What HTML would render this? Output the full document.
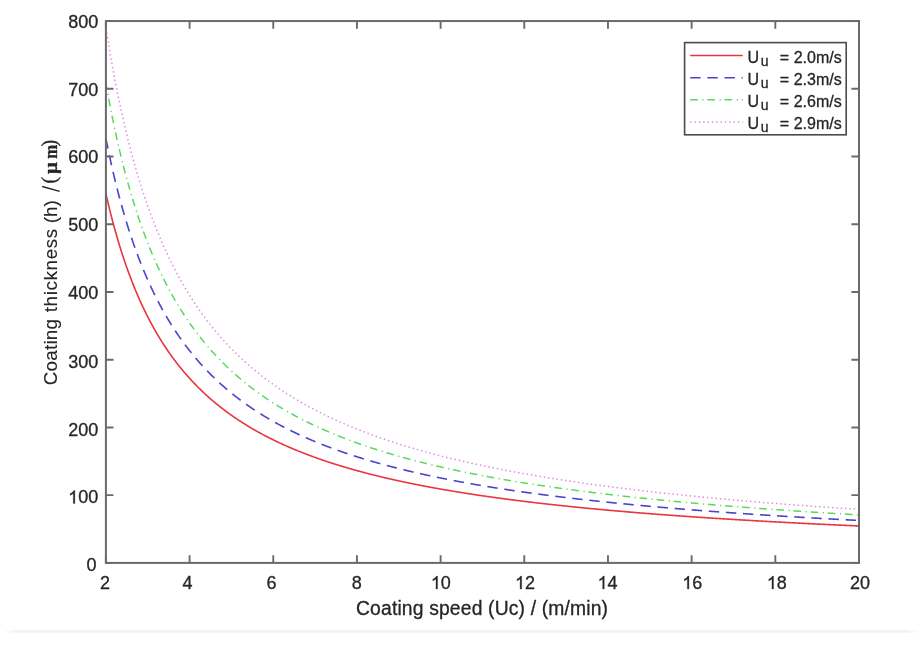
<!DOCTYPE html>
<html><head><meta charset="utf-8"><style>
html,body{margin:0;padding:0;background:#fff;}
body{width:921px;height:647px;overflow:hidden;}
svg{display:block;}
text{filter:grayscale(1);}
text.yl{stroke-width:0.12px;}
text{font-family:"Liberation Sans",sans-serif;fill:#262626;stroke:#262626;stroke-width:0.3px;}
</style></head><body>
<svg width="921" height="647" viewBox="0 0 921 647">
<rect width="921" height="647" fill="#fff"/>
<line x1="6" y1="631.4" x2="918" y2="631.4" stroke="#f8f8f8" stroke-width="2"/>
<line x1="14" y1="631.4" x2="910" y2="631.4" stroke="#f0f0f0" stroke-width="2"/>

<clipPath id="c"><rect x="105.9" y="21.05" width="753.1" height="541.85"/></clipPath><g clip-path="url(#c)" fill="none">
<path d="M105.90,193.76 L106.40,195.97 L106.90,198.14 L107.41,200.29 L107.91,202.42 L108.41,204.52 L108.91,206.59 L109.41,208.64 L109.92,210.67 L110.42,212.68 L110.92,214.66 L111.42,216.62 L111.92,218.56 L112.43,220.47 L112.93,222.37 L113.43,224.24 L113.93,226.10 L114.44,227.93 L114.94,229.75 L115.44,231.54 L115.94,233.31 L116.44,235.07 L116.95,236.81 L117.45,238.53 L117.95,240.23 L118.45,241.91 L118.95,243.58 L119.46,245.23 L119.96,246.86 L120.46,248.47 L120.96,250.07 L121.46,251.66 L121.97,253.22 L122.47,254.77 L122.97,256.31 L123.47,257.83 L123.97,259.33 L124.48,260.83 L124.98,262.30 L125.48,263.76 L125.98,265.21 L126.48,266.64 L126.99,268.06 L127.49,269.47 L127.99,270.86 L128.49,272.24 L129.00,273.61 L129.50,274.96 L130.00,276.30 L130.50,277.63 L131.00,278.95 L131.51,280.25 L132.01,281.55 L132.51,282.83 L133.01,284.10 L133.51,285.35 L134.02,286.60 L134.52,287.84 L135.02,289.06 L135.52,290.27 L136.02,291.48 L136.53,292.67 L137.03,293.85 L137.53,295.02 L138.03,296.18 L138.53,297.34 L139.04,298.48 L139.54,299.61 L140.04,300.73 L140.54,301.84 L141.04,302.95 L141.55,304.04 L142.05,305.12 L142.55,306.20 L143.05,307.27 L143.56,308.32 L144.06,309.37 L144.56,310.41 L145.06,311.45 L145.56,312.47 L146.07,313.48 L146.57,314.49 L147.07,315.49 L147.57,316.48 L148.07,317.46 L148.58,318.44 L149.08,319.41 L149.58,320.37 L150.08,321.32 L150.58,322.26 L151.09,323.20 L151.59,324.13 L152.09,325.06 L152.59,325.97 L153.09,326.88 L153.60,327.78 L154.10,328.68 L154.60,329.57 L155.10,330.45 L155.60,331.32 L156.11,332.19 L156.61,333.05 L157.11,333.91 L157.61,334.76 L158.11,335.60 L158.62,336.44 L159.12,337.27 L159.62,338.09 L160.12,338.91 L160.63,339.72 L161.13,340.53 L161.63,341.33 L162.13,342.13 L162.63,342.91 L163.14,343.70 L163.64,344.48 L164.14,345.25 L164.64,346.02 L165.14,346.78 L165.65,347.54 L166.15,348.29 L166.65,349.03 L167.15,349.77 L167.65,350.51 L168.16,351.24 L168.66,351.97 L169.16,352.69 L169.66,353.40 L170.16,354.11 L170.67,354.82 L171.17,355.52 L171.67,356.22 L172.17,356.91 L172.67,357.60 L173.18,358.28 L173.68,358.96 L174.18,359.63 L174.68,360.30 L175.19,360.97 L175.69,361.63 L176.19,362.28 L176.69,362.94 L177.19,363.58 L177.70,364.23 L178.20,364.87 L178.70,365.50 L179.20,366.13 L179.70,366.76 L180.21,367.38 L180.71,368.00 L181.21,368.62 L181.71,369.23 L182.21,369.84 L182.72,370.44 L183.22,371.04 L183.72,371.64 L184.22,372.23 L184.72,372.82 L185.23,373.41 L185.73,373.99 L186.23,374.57 L186.73,375.14 L187.23,375.71 L187.74,376.28 L188.24,376.84 L188.74,377.40 L189.24,377.96 L189.75,378.52 L190.25,379.07 L190.75,379.62 L191.25,380.16 L191.75,380.70 L192.26,381.24 L192.76,381.77 L193.26,382.31 L193.76,382.83 L194.26,383.36 L194.77,383.88 L195.27,384.40 L195.77,384.92 L196.27,385.43 L196.77,385.94 L197.28,386.45 L197.78,386.95 L198.28,387.46 L198.78,387.95 L199.28,388.45 L199.79,388.94 L200.29,389.43 L200.79,389.92 L201.29,390.41 L201.79,390.89 L202.30,391.37 L202.80,391.85 L203.30,392.32 L203.80,392.79 L204.31,393.26 L204.81,393.73 L205.31,394.19 L205.81,394.65 L206.31,395.11 L206.82,395.57 L207.32,396.02 L207.82,396.47 L208.32,396.92 L208.82,397.37 L209.33,397.81 L209.83,398.25 L210.33,398.69 L210.83,399.13 L211.33,399.57 L211.84,400.00 L212.34,400.43 L212.84,400.86 L213.34,401.28 L213.84,401.71 L214.35,402.13 L214.85,402.55 L215.35,402.96 L215.85,403.38 L216.35,403.79 L216.86,404.20 L217.36,404.61 L217.86,405.01 L218.36,405.42 L218.87,405.82 L219.37,406.22 L219.87,406.62 L220.37,407.02 L220.87,407.41 L221.38,407.80 L221.88,408.19 L222.38,408.58 L222.88,408.97 L223.38,409.35 L223.89,409.73 L224.39,410.11 L224.89,410.49 L225.39,410.87 L225.89,411.24 L226.40,411.62 L226.90,411.99 L227.40,412.36 L227.90,412.72 L228.40,413.09 L228.91,413.45 L229.41,413.81 L229.91,414.18 L230.41,414.53 L230.91,414.89 L231.42,415.25 L231.92,415.60 L232.42,415.95 L232.92,416.30 L233.42,416.65 L233.93,417.00 L234.43,417.34 L234.93,417.69 L235.43,418.03 L235.94,418.37 L236.44,418.71 L236.94,419.04 L237.44,419.38 L237.94,419.71 L238.45,420.05 L238.95,420.38 L239.45,420.71 L239.95,421.03 L240.45,421.36 L240.96,421.69 L241.46,422.01 L241.96,422.33 L242.46,422.65 L242.96,422.97 L243.47,423.29 L243.97,423.60 L244.47,423.92 L244.97,424.23 L245.47,424.54 L245.98,424.85 L246.48,425.16 L246.98,425.47 L247.48,425.78 L247.98,426.08 L248.49,426.39 L248.99,426.69 L249.49,426.99 L249.99,427.29 L250.50,427.59 L251.00,427.88 L251.50,428.18 L252.00,428.47 L252.50,428.77 L253.01,429.06 L253.51,429.35 L254.01,429.64 L254.51,429.93 L255.01,430.21 L255.52,430.50 L256.02,430.78 L256.52,431.07 L257.02,431.35 L257.52,431.63 L258.03,431.91 L258.53,432.19 L259.03,432.46 L259.53,432.74 L260.03,433.01 L260.54,433.29 L261.04,433.56 L261.54,433.83 L262.04,434.10 L262.54,434.37 L263.05,434.64 L263.55,434.91 L264.05,435.17 L264.55,435.44 L265.06,435.70 L265.56,435.96 L266.06,436.22 L266.56,436.48 L267.06,436.74 L267.57,437.00 L268.07,437.26 L268.57,437.51 L269.07,437.77 L269.57,438.02 L270.08,438.28 L270.58,438.53 L271.08,438.78 L271.58,439.03 L272.08,439.28 L272.59,439.53 L273.09,439.77 L273.59,440.02 L274.09,440.26 L274.59,440.51 L275.10,440.75 L275.60,440.99 L276.10,441.23 L276.60,441.47 L277.10,441.71 L277.61,441.95 L278.11,442.19 L278.61,442.43 L279.11,442.66 L279.62,442.90 L280.12,443.13 L280.62,443.36 L281.12,443.59 L281.62,443.82 L282.13,444.05 L282.63,444.28 L283.13,444.51 L283.63,444.74 L284.13,444.97 L284.64,445.19 L285.14,445.42 L285.64,445.64 L286.14,445.86 L286.64,446.09 L287.15,446.31 L287.65,446.53 L288.15,446.75 L288.65,446.97 L289.15,447.18 L289.66,447.40 L290.16,447.62 L290.66,447.83 L291.16,448.05 L291.66,448.26 L292.17,448.47 L292.67,448.69 L293.17,448.90 L293.67,449.11 L294.18,449.32 L294.68,449.53 L295.18,449.74 L295.68,449.95 L296.18,450.15 L296.69,450.36 L297.19,450.56 L297.69,450.77 L298.19,450.97 L298.69,451.18 L299.20,451.38 L299.70,451.58 L300.20,451.78 L300.70,451.98 L301.20,452.18 L301.71,452.38 L302.21,452.58 L302.71,452.78 L303.21,452.97 L303.71,453.17 L304.22,453.36 L304.72,453.56 L305.22,453.75 L305.72,453.95 L306.22,454.14 L306.73,454.33 L307.23,454.52 L307.73,454.71 L308.23,454.90 L308.73,455.09 L309.24,455.28 L309.74,455.47 L310.24,455.66 L310.74,455.84 L311.25,456.03 L311.75,456.21 L312.25,456.40 L312.75,456.58 L313.25,456.77 L313.76,456.95 L314.26,457.13 L314.76,457.31 L315.26,457.49 L315.76,457.67 L316.27,457.85 L316.77,458.03 L317.27,458.21 L317.77,458.39 L318.27,458.57 L318.78,458.74 L319.28,458.92 L319.78,459.09 L320.28,459.27 L320.78,459.44 L321.29,459.62 L321.79,459.79 L322.29,459.96 L322.79,460.13 L323.29,460.31 L323.80,460.48 L324.30,460.65 L324.80,460.82 L325.30,460.99 L325.81,461.15 L326.31,461.32 L326.81,461.49 L327.31,461.66 L327.81,461.82 L328.32,461.99 L328.82,462.15 L329.32,462.32 L329.82,462.48 L330.32,462.65 L330.83,462.81 L331.33,462.97 L331.83,463.13 L332.33,463.30 L332.83,463.46 L333.34,463.62 L333.84,463.78 L334.34,463.94 L334.84,464.10 L335.34,464.25 L335.85,464.41 L336.35,464.57 L336.85,464.73 L337.35,464.88 L337.85,465.04 L338.36,465.19 L338.86,465.35 L339.36,465.50 L339.86,465.66 L340.37,465.81 L340.87,465.96 L341.37,466.12 L341.87,466.27 L342.37,466.42 L342.88,466.57 L343.38,466.72 L343.88,466.87 L344.38,467.02 L344.88,467.17 L345.39,467.32 L345.89,467.47 L346.39,467.61 L346.89,467.76 L347.39,467.91 L347.90,468.06 L348.40,468.20 L348.90,468.35 L349.40,468.49 L349.90,468.64 L350.41,468.78 L350.91,468.92 L351.41,469.07 L351.91,469.21 L352.41,469.35 L352.92,469.50 L353.42,469.64 L353.92,469.78 L354.42,469.92 L354.93,470.06 L355.43,470.20 L355.93,470.34 L356.43,470.48 L356.93,470.62 L357.44,470.75 L357.94,470.89 L358.44,471.03 L358.94,471.17 L359.44,471.30 L359.95,471.44 L360.45,471.58 L360.95,471.71 L361.45,471.85 L361.95,471.98 L362.46,472.11 L362.96,472.25 L363.46,472.38 L363.96,472.51 L364.46,472.65 L364.97,472.78 L365.47,472.91 L365.97,473.04 L366.47,473.17 L366.97,473.30 L367.48,473.43 L367.98,473.56 L368.48,473.69 L368.98,473.82 L369.49,473.95 L369.99,474.08 L370.49,474.21 L370.99,474.34 L371.49,474.46 L372.00,474.59 L372.50,474.72 L373.00,474.84 L373.50,474.97 L374.00,475.09 L374.51,475.22 L375.01,475.34 L375.51,475.47 L376.01,475.59 L376.51,475.72 L377.02,475.84 L377.52,475.96 L378.02,476.09 L378.52,476.21 L379.02,476.33 L379.53,476.45 L380.03,476.57 L380.53,476.69 L381.03,476.81 L381.53,476.93 L382.04,477.05 L382.54,477.17 L383.04,477.29 L383.54,477.41 L384.04,477.53 L384.55,477.65 L385.05,477.77 L385.55,477.88 L386.05,478.00 L386.56,478.12 L387.06,478.24 L387.56,478.35 L388.06,478.47 L388.56,478.58 L389.07,478.70 L389.57,478.81 L390.07,478.93 L390.57,479.04 L391.07,479.16 L391.58,479.27 L392.08,479.39 L392.58,479.50 L393.08,479.61 L393.58,479.72 L394.09,479.84 L394.59,479.95 L395.09,480.06 L395.59,480.17 L396.09,480.28 L396.60,480.39 L397.10,480.50 L397.60,480.61 L398.10,480.72 L398.60,480.83 L399.11,480.94 L399.61,481.05 L400.11,481.16 L400.61,481.27 L401.12,481.38 L401.62,481.49 L402.12,481.59 L402.62,481.70 L403.12,481.81 L403.63,481.91 L404.13,482.02 L404.63,482.13 L405.13,482.23 L405.63,482.34 L406.14,482.44 L406.64,482.55 L407.14,482.65 L407.64,482.76 L408.14,482.86 L408.65,482.97 L409.15,483.07 L409.65,483.17 L410.15,483.28 L410.65,483.38 L411.16,483.48 L411.66,483.58 L412.16,483.69 L412.66,483.79 L413.16,483.89 L413.67,483.99 L414.17,484.09 L414.67,484.19 L415.17,484.29 L415.68,484.39 L416.18,484.49 L416.68,484.59 L417.18,484.69 L417.68,484.79 L418.19,484.89 L418.69,484.99 L419.19,485.09 L419.69,485.19 L420.19,485.29 L420.70,485.38 L421.20,485.48 L421.70,485.58 L422.20,485.68 L422.70,485.77 L423.21,485.87 L423.71,485.96 L424.21,486.06 L424.71,486.16 L425.21,486.25 L425.72,486.35 L426.22,486.44 L426.72,486.54 L427.22,486.63 L427.72,486.73 L428.23,486.82 L428.73,486.91 L429.23,487.01 L429.73,487.10 L430.24,487.20 L430.74,487.29 L431.24,487.38 L431.74,487.47 L432.24,487.57 L432.75,487.66 L433.25,487.75 L433.75,487.84 L434.25,487.93 L434.75,488.02 L435.26,488.12 L435.76,488.21 L436.26,488.30 L436.76,488.39 L437.26,488.48 L437.77,488.57 L438.27,488.66 L438.77,488.75 L439.27,488.84 L439.77,488.92 L440.28,489.01 L440.78,489.10 L441.28,489.19 L441.78,489.28 L442.28,489.37 L442.79,489.45 L443.29,489.54 L443.79,489.63 L444.29,489.72 L444.79,489.80 L445.30,489.89 L445.80,489.98 L446.30,490.06 L446.80,490.15 L447.31,490.24 L447.81,490.32 L448.31,490.41 L448.81,490.49 L449.31,490.58 L449.82,490.66 L450.32,490.75 L450.82,490.83 L451.32,490.92 L451.82,491.00 L452.33,491.08 L452.83,491.17 L453.33,491.25 L453.83,491.33 L454.33,491.42 L454.84,491.50 L455.34,491.58 L455.84,491.67 L456.34,491.75 L456.84,491.83 L457.35,491.91 L457.85,491.99 L458.35,492.08 L458.85,492.16 L459.35,492.24 L459.86,492.32 L460.36,492.40 L460.86,492.48 L461.36,492.56 L461.87,492.64 L462.37,492.72 L462.87,492.80 L463.37,492.88 L463.87,492.96 L464.38,493.04 L464.88,493.12 L465.38,493.20 L465.88,493.28 L466.38,493.36 L466.89,493.44 L467.39,493.51 L467.89,493.59 L468.39,493.67 L468.89,493.75 L469.40,493.83 L469.90,493.90 L470.40,493.98 L470.90,494.06 L471.40,494.13 L471.91,494.21 L472.41,494.29 L472.91,494.36 L473.41,494.44 L473.91,494.52 L474.42,494.59 L474.92,494.67 L475.42,494.74 L475.92,494.82 L476.43,494.89 L476.93,494.97 L477.43,495.04 L477.93,495.12 L478.43,495.19 L478.94,495.27 L479.44,495.34 L479.94,495.42 L480.44,495.49 L480.94,495.56 L481.45,495.64 L481.95,495.71 L482.45,495.78 L482.95,495.86 L483.45,495.93 L483.96,496.00 L484.46,496.08 L484.96,496.15 L485.46,496.22 L485.96,496.29 L486.47,496.37 L486.97,496.44 L487.47,496.51 L487.97,496.58 L488.47,496.65 L488.98,496.72 L489.48,496.79 L489.98,496.87 L490.48,496.94 L490.99,497.01 L491.49,497.08 L491.99,497.15 L492.49,497.22 L492.99,497.29 L493.50,497.36 L494.00,497.43 L494.50,497.50 L495.00,497.57 L495.50,497.64 L496.01,497.70 L496.51,497.77 L497.01,497.84 L497.51,497.91 L498.01,497.98 L498.52,498.05 L499.02,498.12 L499.52,498.18 L500.02,498.25 L500.52,498.32 L501.03,498.39 L501.53,498.46 L502.03,498.52 L502.53,498.59 L503.03,498.66 L503.54,498.72 L504.04,498.79 L504.54,498.86 L505.04,498.93 L505.55,498.99 L506.05,499.06 L506.55,499.12 L507.05,499.19 L507.55,499.26 L508.06,499.32 L508.56,499.39 L509.06,499.45 L509.56,499.52 L510.06,499.58 L510.57,499.65 L511.07,499.71 L511.57,499.78 L512.07,499.84 L512.57,499.91 L513.08,499.97 L513.58,500.04 L514.08,500.10 L514.58,500.16 L515.08,500.23 L515.59,500.29 L516.09,500.36 L516.59,500.42 L517.09,500.48 L517.59,500.55 L518.10,500.61 L518.60,500.67 L519.10,500.74 L519.60,500.80 L520.11,500.86 L520.61,500.92 L521.11,500.99 L521.61,501.05 L522.11,501.11 L522.62,501.17 L523.12,501.23 L523.62,501.30 L524.12,501.36 L524.62,501.42 L525.13,501.48 L525.63,501.54 L526.13,501.60 L526.63,501.66 L527.13,501.72 L527.64,501.78 L528.14,501.85 L528.64,501.91 L529.14,501.97 L529.64,502.03 L530.15,502.09 L530.65,502.15 L531.15,502.21 L531.65,502.27 L532.15,502.33 L532.66,502.39 L533.16,502.45 L533.66,502.50 L534.16,502.56 L534.66,502.62 L535.17,502.68 L535.67,502.74 L536.17,502.80 L536.67,502.86 L537.18,502.92 L537.68,502.98 L538.18,503.03 L538.68,503.09 L539.18,503.15 L539.69,503.21 L540.19,503.27 L540.69,503.32 L541.19,503.38 L541.69,503.44 L542.20,503.50 L542.70,503.55 L543.20,503.61 L543.70,503.67 L544.20,503.72 L544.71,503.78 L545.21,503.84 L545.71,503.89 L546.21,503.95 L546.71,504.01 L547.22,504.06 L547.72,504.12 L548.22,504.18 L548.72,504.23 L549.22,504.29 L549.73,504.34 L550.23,504.40 L550.73,504.46 L551.23,504.51 L551.74,504.57 L552.24,504.62 L552.74,504.68 L553.24,504.73 L553.74,504.79 L554.25,504.84 L554.75,504.90 L555.25,504.95 L555.75,505.01 L556.25,505.06 L556.76,505.11 L557.26,505.17 L557.76,505.22 L558.26,505.28 L558.76,505.33 L559.27,505.38 L559.77,505.44 L560.27,505.49 L560.77,505.55 L561.27,505.60 L561.78,505.65 L562.28,505.71 L562.78,505.76 L563.28,505.81 L563.78,505.86 L564.29,505.92 L564.79,505.97 L565.29,506.02 L565.79,506.07 L566.30,506.13 L566.80,506.18 L567.30,506.23 L567.80,506.28 L568.30,506.34 L568.81,506.39 L569.31,506.44 L569.81,506.49 L570.31,506.54 L570.81,506.60 L571.32,506.65 L571.82,506.70 L572.32,506.75 L572.82,506.80 L573.32,506.85 L573.83,506.90 L574.33,506.95 L574.83,507.00 L575.33,507.06 L575.83,507.11 L576.34,507.16 L576.84,507.21 L577.34,507.26 L577.84,507.31 L578.34,507.36 L578.85,507.41 L579.35,507.46 L579.85,507.51 L580.35,507.56 L580.86,507.61 L581.36,507.66 L581.86,507.71 L582.36,507.76 L582.86,507.81 L583.37,507.85 L583.87,507.90 L584.37,507.95 L584.87,508.00 L585.37,508.05 L585.88,508.10 L586.38,508.15 L586.88,508.20 L587.38,508.25 L587.88,508.29 L588.39,508.34 L588.89,508.39 L589.39,508.44 L589.89,508.49 L590.39,508.54 L590.90,508.58 L591.40,508.63 L591.90,508.68 L592.40,508.73 L592.90,508.77 L593.41,508.82 L593.91,508.87 L594.41,508.92 L594.91,508.96 L595.42,509.01 L595.92,509.06 L596.42,509.11 L596.92,509.15 L597.42,509.20 L597.93,509.25 L598.43,509.29 L598.93,509.34 L599.43,509.39 L599.93,509.43 L600.44,509.48 L600.94,509.53 L601.44,509.57 L601.94,509.62 L602.44,509.66 L602.95,509.71 L603.45,509.76 L603.95,509.80 L604.45,509.85 L604.95,509.89 L605.46,509.94 L605.96,509.98 L606.46,510.03 L606.96,510.08 L607.46,510.12 L607.97,510.17 L608.47,510.21 L608.97,510.26 L609.47,510.30 L609.97,510.35 L610.48,510.39 L610.98,510.44 L611.48,510.48 L611.98,510.53 L612.49,510.57 L612.99,510.61 L613.49,510.66 L613.99,510.70 L614.49,510.75 L615.00,510.79 L615.50,510.84 L616.00,510.88 L616.50,510.92 L617.00,510.97 L617.51,511.01 L618.01,511.06 L618.51,511.10 L619.01,511.14 L619.51,511.19 L620.02,511.23 L620.52,511.27 L621.02,511.32 L621.52,511.36 L622.02,511.40 L622.53,511.45 L623.03,511.49 L623.53,511.53 L624.03,511.57 L624.53,511.62 L625.04,511.66 L625.54,511.70 L626.04,511.74 L626.54,511.79 L627.05,511.83 L627.55,511.87 L628.05,511.91 L628.55,511.96 L629.05,512.00 L629.56,512.04 L630.06,512.08 L630.56,512.12 L631.06,512.17 L631.56,512.21 L632.07,512.25 L632.57,512.29 L633.07,512.33 L633.57,512.38 L634.07,512.42 L634.58,512.46 L635.08,512.50 L635.58,512.54 L636.08,512.58 L636.58,512.62 L637.09,512.66 L637.59,512.70 L638.09,512.75 L638.59,512.79 L639.09,512.83 L639.60,512.87 L640.10,512.91 L640.60,512.95 L641.10,512.99 L641.61,513.03 L642.11,513.07 L642.61,513.11 L643.11,513.15 L643.61,513.19 L644.12,513.23 L644.62,513.27 L645.12,513.31 L645.62,513.35 L646.12,513.39 L646.63,513.43 L647.13,513.47 L647.63,513.51 L648.13,513.55 L648.63,513.59 L649.14,513.63 L649.64,513.67 L650.14,513.71 L650.64,513.75 L651.14,513.79 L651.65,513.83 L652.15,513.87 L652.65,513.90 L653.15,513.94 L653.65,513.98 L654.16,514.02 L654.66,514.06 L655.16,514.10 L655.66,514.14 L656.17,514.18 L656.67,514.21 L657.17,514.25 L657.67,514.29 L658.17,514.33 L658.68,514.37 L659.18,514.41 L659.68,514.44 L660.18,514.48 L660.68,514.52 L661.19,514.56 L661.69,514.60 L662.19,514.63 L662.69,514.67 L663.19,514.71 L663.70,514.75 L664.20,514.79 L664.70,514.82 L665.20,514.86 L665.70,514.90 L666.21,514.94 L666.71,514.97 L667.21,515.01 L667.71,515.05 L668.21,515.08 L668.72,515.12 L669.22,515.16 L669.72,515.20 L670.22,515.23 L670.73,515.27 L671.23,515.31 L671.73,515.34 L672.23,515.38 L672.73,515.42 L673.24,515.45 L673.74,515.49 L674.24,515.53 L674.74,515.56 L675.24,515.60 L675.75,515.64 L676.25,515.67 L676.75,515.71 L677.25,515.74 L677.75,515.78 L678.26,515.82 L678.76,515.85 L679.26,515.89 L679.76,515.92 L680.26,515.96 L680.77,516.00 L681.27,516.03 L681.77,516.07 L682.27,516.10 L682.77,516.14 L683.28,516.17 L683.78,516.21 L684.28,516.24 L684.78,516.28 L685.28,516.32 L685.79,516.35 L686.29,516.39 L686.79,516.42 L687.29,516.46 L687.80,516.49 L688.30,516.53 L688.80,516.56 L689.30,516.60 L689.80,516.63 L690.31,516.67 L690.81,516.70 L691.31,516.74 L691.81,516.77 L692.31,516.80 L692.82,516.84 L693.32,516.87 L693.82,516.91 L694.32,516.94 L694.82,516.98 L695.33,517.01 L695.83,517.04 L696.33,517.08 L696.83,517.11 L697.33,517.15 L697.84,517.18 L698.34,517.21 L698.84,517.25 L699.34,517.28 L699.84,517.32 L700.35,517.35 L700.85,517.38 L701.35,517.42 L701.85,517.45 L702.36,517.48 L702.86,517.52 L703.36,517.55 L703.86,517.59 L704.36,517.62 L704.87,517.65 L705.37,517.68 L705.87,517.72 L706.37,517.75 L706.87,517.78 L707.38,517.82 L707.88,517.85 L708.38,517.88 L708.88,517.92 L709.38,517.95 L709.89,517.98 L710.39,518.01 L710.89,518.05 L711.39,518.08 L711.89,518.11 L712.40,518.15 L712.90,518.18 L713.40,518.21 L713.90,518.24 L714.40,518.28 L714.91,518.31 L715.41,518.34 L715.91,518.37 L716.41,518.40 L716.92,518.44 L717.42,518.47 L717.92,518.50 L718.42,518.53 L718.92,518.56 L719.43,518.60 L719.93,518.63 L720.43,518.66 L720.93,518.69 L721.43,518.72 L721.94,518.76 L722.44,518.79 L722.94,518.82 L723.44,518.85 L723.94,518.88 L724.45,518.91 L724.95,518.94 L725.45,518.98 L725.95,519.01 L726.45,519.04 L726.96,519.07 L727.46,519.10 L727.96,519.13 L728.46,519.16 L728.96,519.19 L729.47,519.23 L729.97,519.26 L730.47,519.29 L730.97,519.32 L731.48,519.35 L731.98,519.38 L732.48,519.41 L732.98,519.44 L733.48,519.47 L733.99,519.50 L734.49,519.53 L734.99,519.56 L735.49,519.59 L735.99,519.63 L736.50,519.66 L737.00,519.69 L737.50,519.72 L738.00,519.75 L738.50,519.78 L739.01,519.81 L739.51,519.84 L740.01,519.87 L740.51,519.90 L741.01,519.93 L741.52,519.96 L742.02,519.99 L742.52,520.02 L743.02,520.05 L743.52,520.08 L744.03,520.11 L744.53,520.14 L745.03,520.17 L745.53,520.20 L746.03,520.23 L746.54,520.25 L747.04,520.28 L747.54,520.31 L748.04,520.34 L748.55,520.37 L749.05,520.40 L749.55,520.43 L750.05,520.46 L750.55,520.49 L751.06,520.52 L751.56,520.55 L752.06,520.58 L752.56,520.61 L753.06,520.64 L753.57,520.66 L754.07,520.69 L754.57,520.72 L755.07,520.75 L755.57,520.78 L756.08,520.81 L756.58,520.84 L757.08,520.87 L757.58,520.90 L758.08,520.92 L758.59,520.95 L759.09,520.98 L759.59,521.01 L760.09,521.04 L760.59,521.07 L761.10,521.10 L761.60,521.12 L762.10,521.15 L762.60,521.18 L763.11,521.21 L763.61,521.24 L764.11,521.27 L764.61,521.29 L765.11,521.32 L765.62,521.35 L766.12,521.38 L766.62,521.41 L767.12,521.43 L767.62,521.46 L768.13,521.49 L768.63,521.52 L769.13,521.54 L769.63,521.57 L770.13,521.60 L770.64,521.63 L771.14,521.66 L771.64,521.68 L772.14,521.71 L772.64,521.74 L773.15,521.77 L773.65,521.79 L774.15,521.82 L774.65,521.85 L775.15,521.88 L775.66,521.90 L776.16,521.93 L776.66,521.96 L777.16,521.98 L777.67,522.01 L778.17,522.04 L778.67,522.07 L779.17,522.09 L779.67,522.12 L780.18,522.15 L780.68,522.17 L781.18,522.20 L781.68,522.23 L782.18,522.26 L782.69,522.28 L783.19,522.31 L783.69,522.34 L784.19,522.36 L784.69,522.39 L785.20,522.42 L785.70,522.44 L786.20,522.47 L786.70,522.50 L787.20,522.52 L787.71,522.55 L788.21,522.57 L788.71,522.60 L789.21,522.63 L789.71,522.65 L790.22,522.68 L790.72,522.71 L791.22,522.73 L791.72,522.76 L792.23,522.79 L792.73,522.81 L793.23,522.84 L793.73,522.86 L794.23,522.89 L794.74,522.92 L795.24,522.94 L795.74,522.97 L796.24,522.99 L796.74,523.02 L797.25,523.05 L797.75,523.07 L798.25,523.10 L798.75,523.12 L799.25,523.15 L799.76,523.17 L800.26,523.20 L800.76,523.23 L801.26,523.25 L801.76,523.28 L802.27,523.30 L802.77,523.33 L803.27,523.35 L803.77,523.38 L804.27,523.40 L804.78,523.43 L805.28,523.45 L805.78,523.48 L806.28,523.50 L806.79,523.53 L807.29,523.55 L807.79,523.58 L808.29,523.61 L808.79,523.63 L809.30,523.66 L809.80,523.68 L810.30,523.71 L810.80,523.73 L811.30,523.76 L811.81,523.78 L812.31,523.80 L812.81,523.83 L813.31,523.85 L813.81,523.88 L814.32,523.90 L814.82,523.93 L815.32,523.95 L815.82,523.98 L816.32,524.00 L816.83,524.03 L817.33,524.05 L817.83,524.08 L818.33,524.10 L818.83,524.13 L819.34,524.15 L819.84,524.17 L820.34,524.20 L820.84,524.22 L821.35,524.25 L821.85,524.27 L822.35,524.30 L822.85,524.32 L823.35,524.34 L823.86,524.37 L824.36,524.39 L824.86,524.42 L825.36,524.44 L825.86,524.46 L826.37,524.49 L826.87,524.51 L827.37,524.54 L827.87,524.56 L828.37,524.58 L828.88,524.61 L829.38,524.63 L829.88,524.66 L830.38,524.68 L830.88,524.70 L831.39,524.73 L831.89,524.75 L832.39,524.77 L832.89,524.80 L833.39,524.82 L833.90,524.84 L834.40,524.87 L834.90,524.89 L835.40,524.92 L835.90,524.94 L836.41,524.96 L836.91,524.99 L837.41,525.01 L837.91,525.03 L838.42,525.06 L838.92,525.08 L839.42,525.10 L839.92,525.13 L840.42,525.15 L840.93,525.17 L841.43,525.19 L841.93,525.22 L842.43,525.24 L842.93,525.26 L843.44,525.29 L843.94,525.31 L844.44,525.33 L844.94,525.36 L845.44,525.38 L845.95,525.40 L846.45,525.42 L846.95,525.45 L847.45,525.47 L847.95,525.49 L848.46,525.52 L848.96,525.54 L849.46,525.56 L849.96,525.58 L850.46,525.61 L850.97,525.63 L851.47,525.65 L851.97,525.67 L852.47,525.70 L852.98,525.72 L853.48,525.74 L853.98,525.76 L854.48,525.79 L854.98,525.81 L855.49,525.83 L855.99,525.85 L856.49,525.88 L856.99,525.90 L857.49,525.92 L858.00,525.94 L858.50,525.96 L859.00,525.99" stroke="#ea3440" stroke-width="1.6" />
<path d="M105.90,138.39 L106.40,140.93 L106.90,143.43 L107.41,145.90 L107.91,148.34 L108.41,150.76 L108.91,153.15 L109.41,155.50 L109.92,157.84 L110.42,160.14 L110.92,162.42 L111.42,164.68 L111.92,166.91 L112.43,169.11 L112.93,171.29 L113.43,173.45 L113.93,175.58 L114.44,177.69 L114.94,179.77 L115.44,181.84 L115.94,183.88 L116.44,185.90 L116.95,187.90 L117.45,189.87 L117.95,191.83 L118.45,193.76 L118.95,195.68 L119.46,197.58 L119.96,199.45 L120.46,201.31 L120.96,203.15 L121.46,204.97 L121.97,206.77 L122.47,208.55 L122.97,210.32 L123.47,212.07 L123.97,213.80 L124.48,215.51 L124.98,217.21 L125.48,218.89 L125.98,220.56 L126.48,222.21 L126.99,223.84 L127.49,225.46 L127.99,227.06 L128.49,228.64 L129.00,230.22 L129.50,231.77 L130.00,233.31 L130.50,234.84 L131.00,236.36 L131.51,237.86 L132.01,239.34 L132.51,240.82 L133.01,242.28 L133.51,243.72 L134.02,245.16 L134.52,246.58 L135.02,247.98 L135.52,249.38 L136.02,250.76 L136.53,252.13 L137.03,253.49 L137.53,254.84 L138.03,256.18 L138.53,257.50 L139.04,258.81 L139.54,260.11 L140.04,261.40 L140.54,262.68 L141.04,263.95 L141.55,265.21 L142.05,266.46 L142.55,267.69 L143.05,268.92 L143.56,270.14 L144.06,271.34 L144.56,272.54 L145.06,273.73 L145.56,274.90 L146.07,276.07 L146.57,277.23 L147.07,278.38 L147.57,279.52 L148.07,280.65 L148.58,281.77 L149.08,282.88 L149.58,283.99 L150.08,285.08 L150.58,286.17 L151.09,287.25 L151.59,288.32 L152.09,289.38 L152.59,290.43 L153.09,291.48 L153.60,292.51 L154.10,293.54 L154.60,294.57 L155.10,295.58 L155.60,296.59 L156.11,297.58 L156.61,298.58 L157.11,299.56 L157.61,300.54 L158.11,301.50 L158.62,302.47 L159.12,303.42 L159.62,304.37 L160.12,305.31 L160.63,306.25 L161.13,307.17 L161.63,308.09 L162.13,309.01 L162.63,309.92 L163.14,310.82 L163.64,311.71 L164.14,312.60 L164.64,313.48 L165.14,314.36 L165.65,315.23 L166.15,316.09 L166.65,316.95 L167.15,317.80 L167.65,318.65 L168.16,319.49 L168.66,320.33 L169.16,321.15 L169.66,321.98 L170.16,322.80 L170.67,323.61 L171.17,324.41 L171.67,325.21 L172.17,326.01 L172.67,326.80 L173.18,327.59 L173.68,328.37 L174.18,329.14 L174.68,329.91 L175.19,330.68 L175.69,331.44 L176.19,332.19 L176.69,332.94 L177.19,333.69 L177.70,334.43 L178.20,335.16 L178.70,335.89 L179.20,336.62 L179.70,337.34 L180.21,338.06 L180.71,338.77 L181.21,339.48 L181.71,340.18 L182.21,340.88 L182.72,341.57 L183.22,342.26 L183.72,342.95 L184.22,343.63 L184.72,344.31 L185.23,344.98 L185.73,345.65 L186.23,346.32 L186.73,346.98 L187.23,347.63 L187.74,348.29 L188.24,348.94 L188.74,349.58 L189.24,350.22 L189.75,350.86 L190.25,351.49 L190.75,352.12 L191.25,352.75 L191.75,353.37 L192.26,353.99 L192.76,354.60 L193.26,355.22 L193.76,355.82 L194.26,356.43 L194.77,357.03 L195.27,357.63 L195.77,358.22 L196.27,358.81 L196.77,359.40 L197.28,359.98 L197.78,360.56 L198.28,361.14 L198.78,361.71 L199.28,362.28 L199.79,362.85 L200.29,363.41 L200.79,363.98 L201.29,364.53 L201.79,365.09 L202.30,365.64 L202.80,366.19 L203.30,366.73 L203.80,367.28 L204.31,367.81 L204.81,368.35 L205.31,368.88 L205.81,369.42 L206.31,369.94 L206.82,370.47 L207.32,370.99 L207.82,371.51 L208.32,372.03 L208.82,372.54 L209.33,373.05 L209.83,373.56 L210.33,374.06 L210.83,374.57 L211.33,375.07 L211.84,375.56 L212.34,376.06 L212.84,376.55 L213.34,377.04 L213.84,377.53 L214.35,378.01 L214.85,378.49 L215.35,378.97 L215.85,379.45 L216.35,379.92 L216.86,380.40 L217.36,380.87 L217.86,381.33 L218.36,381.80 L218.87,382.26 L219.37,382.72 L219.87,383.18 L220.37,383.63 L220.87,384.09 L221.38,384.54 L221.88,384.98 L222.38,385.43 L222.88,385.88 L223.38,386.32 L223.89,386.76 L224.39,387.19 L224.89,387.63 L225.39,388.06 L225.89,388.49 L226.40,388.92 L226.90,389.35 L227.40,389.77 L227.90,390.20 L228.40,390.62 L228.91,391.04 L229.41,391.45 L229.91,391.87 L230.41,392.28 L230.91,392.69 L231.42,393.10 L231.92,393.50 L232.42,393.91 L232.92,394.31 L233.42,394.71 L233.93,395.11 L234.43,395.51 L234.93,395.90 L235.43,396.30 L235.94,396.69 L236.44,397.08 L236.94,397.47 L237.44,397.85 L237.94,398.24 L238.45,398.62 L238.95,399.00 L239.45,399.38 L239.95,399.75 L240.45,400.13 L240.96,400.50 L241.46,400.87 L241.96,401.25 L242.46,401.61 L242.96,401.98 L243.47,402.35 L243.97,402.71 L244.47,403.07 L244.97,403.43 L245.47,403.79 L245.98,404.15 L246.48,404.50 L246.98,404.86 L247.48,405.21 L247.98,405.56 L248.49,405.91 L248.99,406.26 L249.49,406.60 L249.99,406.95 L250.50,407.29 L251.00,407.63 L251.50,407.97 L252.00,408.31 L252.50,408.65 L253.01,408.98 L253.51,409.32 L254.01,409.65 L254.51,409.98 L255.01,410.31 L255.52,410.64 L256.02,410.97 L256.52,411.29 L257.02,411.62 L257.52,411.94 L258.03,412.26 L258.53,412.58 L259.03,412.90 L259.53,413.22 L260.03,413.53 L260.54,413.85 L261.04,414.16 L261.54,414.47 L262.04,414.78 L262.54,415.09 L263.05,415.40 L263.55,415.71 L264.05,416.01 L264.55,416.32 L265.06,416.62 L265.56,416.92 L266.06,417.22 L266.56,417.52 L267.06,417.82 L267.57,418.12 L268.07,418.41 L268.57,418.71 L269.07,419.00 L269.57,419.29 L270.08,419.58 L270.58,419.87 L271.08,420.16 L271.58,420.45 L272.08,420.73 L272.59,421.02 L273.09,421.30 L273.59,421.59 L274.09,421.87 L274.59,422.15 L275.10,422.43 L275.60,422.71 L276.10,422.98 L276.60,423.26 L277.10,423.54 L277.61,423.81 L278.11,424.08 L278.61,424.35 L279.11,424.62 L279.62,424.89 L280.12,425.16 L280.62,425.43 L281.12,425.70 L281.62,425.96 L282.13,426.23 L282.63,426.49 L283.13,426.75 L283.63,427.01 L284.13,427.28 L284.64,427.53 L285.14,427.79 L285.64,428.05 L286.14,428.31 L286.64,428.56 L287.15,428.82 L287.65,429.07 L288.15,429.32 L288.65,429.58 L289.15,429.83 L289.66,430.08 L290.16,430.32 L290.66,430.57 L291.16,430.82 L291.66,431.07 L292.17,431.31 L292.67,431.56 L293.17,431.80 L293.67,432.04 L294.18,432.28 L294.68,432.52 L295.18,432.76 L295.68,433.00 L296.18,433.24 L296.69,433.48 L297.19,433.71 L297.69,433.95 L298.19,434.18 L298.69,434.42 L299.20,434.65 L299.70,434.88 L300.20,435.11 L300.70,435.34 L301.20,435.57 L301.71,435.80 L302.21,436.03 L302.71,436.26 L303.21,436.48 L303.71,436.71 L304.22,436.93 L304.72,437.16 L305.22,437.38 L305.72,437.60 L306.22,437.82 L306.73,438.05 L307.23,438.27 L307.73,438.48 L308.23,438.70 L308.73,438.92 L309.24,439.14 L309.74,439.35 L310.24,439.57 L310.74,439.78 L311.25,440.00 L311.75,440.21 L312.25,440.42 L312.75,440.63 L313.25,440.85 L313.76,441.06 L314.26,441.27 L314.76,441.47 L315.26,441.68 L315.76,441.89 L316.27,442.10 L316.77,442.30 L317.27,442.51 L317.77,442.71 L318.27,442.92 L318.78,443.12 L319.28,443.32 L319.78,443.52 L320.28,443.72 L320.78,443.92 L321.29,444.12 L321.79,444.32 L322.29,444.52 L322.79,444.72 L323.29,444.92 L323.80,445.11 L324.30,445.31 L324.80,445.50 L325.30,445.70 L325.81,445.89 L326.31,446.09 L326.81,446.28 L327.31,446.47 L327.81,446.66 L328.32,446.85 L328.82,447.04 L329.32,447.23 L329.82,447.42 L330.32,447.61 L330.83,447.80 L331.33,447.98 L331.83,448.17 L332.33,448.35 L332.83,448.54 L333.34,448.72 L333.84,448.91 L334.34,449.09 L334.84,449.27 L335.34,449.46 L335.85,449.64 L336.35,449.82 L336.85,450.00 L337.35,450.18 L337.85,450.36 L338.36,450.54 L338.86,450.72 L339.36,450.89 L339.86,451.07 L340.37,451.25 L340.87,451.42 L341.37,451.60 L341.87,451.77 L342.37,451.95 L342.88,452.12 L343.38,452.29 L343.88,452.47 L344.38,452.64 L344.88,452.81 L345.39,452.98 L345.89,453.15 L346.39,453.32 L346.89,453.49 L347.39,453.66 L347.90,453.83 L348.40,454.00 L348.90,454.16 L349.40,454.33 L349.90,454.50 L350.41,454.66 L350.91,454.83 L351.41,454.99 L351.91,455.16 L352.41,455.32 L352.92,455.48 L353.42,455.65 L353.92,455.81 L354.42,455.97 L354.93,456.13 L355.43,456.29 L355.93,456.45 L356.43,456.61 L356.93,456.77 L357.44,456.93 L357.94,457.09 L358.44,457.25 L358.94,457.41 L359.44,457.56 L359.95,457.72 L360.45,457.88 L360.95,458.03 L361.45,458.19 L361.95,458.34 L362.46,458.50 L362.96,458.65 L363.46,458.80 L363.96,458.96 L364.46,459.11 L364.97,459.26 L365.47,459.41 L365.97,459.56 L366.47,459.71 L366.97,459.86 L367.48,460.01 L367.98,460.16 L368.48,460.31 L368.98,460.46 L369.49,460.61 L369.99,460.76 L370.49,460.90 L370.99,461.05 L371.49,461.20 L372.00,461.34 L372.50,461.49 L373.00,461.63 L373.50,461.78 L374.00,461.92 L374.51,462.07 L375.01,462.21 L375.51,462.35 L376.01,462.50 L376.51,462.64 L377.02,462.78 L377.52,462.92 L378.02,463.06 L378.52,463.20 L379.02,463.34 L379.53,463.48 L380.03,463.62 L380.53,463.76 L381.03,463.90 L381.53,464.04 L382.04,464.18 L382.54,464.32 L383.04,464.45 L383.54,464.59 L384.04,464.73 L384.55,464.86 L385.05,465.00 L385.55,465.13 L386.05,465.27 L386.56,465.40 L387.06,465.54 L387.56,465.67 L388.06,465.80 L388.56,465.94 L389.07,466.07 L389.57,466.20 L390.07,466.33 L390.57,466.47 L391.07,466.60 L391.58,466.73 L392.08,466.86 L392.58,466.99 L393.08,467.12 L393.58,467.25 L394.09,467.38 L394.59,467.51 L395.09,467.63 L395.59,467.76 L396.09,467.89 L396.60,468.02 L397.10,468.14 L397.60,468.27 L398.10,468.40 L398.60,468.52 L399.11,468.65 L399.61,468.77 L400.11,468.90 L400.61,469.02 L401.12,469.15 L401.62,469.27 L402.12,469.40 L402.62,469.52 L403.12,469.64 L403.63,469.77 L404.13,469.89 L404.63,470.01 L405.13,470.13 L405.63,470.25 L406.14,470.37 L406.64,470.50 L407.14,470.62 L407.64,470.74 L408.14,470.86 L408.65,470.98 L409.15,471.10 L409.65,471.21 L410.15,471.33 L410.65,471.45 L411.16,471.57 L411.66,471.69 L412.16,471.80 L412.66,471.92 L413.16,472.04 L413.67,472.15 L414.17,472.27 L414.67,472.39 L415.17,472.50 L415.68,472.62 L416.18,472.73 L416.68,472.85 L417.18,472.96 L417.68,473.08 L418.19,473.19 L418.69,473.30 L419.19,473.42 L419.69,473.53 L420.19,473.64 L420.70,473.76 L421.20,473.87 L421.70,473.98 L422.20,474.09 L422.70,474.20 L423.21,474.31 L423.71,474.42 L424.21,474.53 L424.71,474.65 L425.21,474.76 L425.72,474.86 L426.22,474.97 L426.72,475.08 L427.22,475.19 L427.72,475.30 L428.23,475.41 L428.73,475.52 L429.23,475.62 L429.73,475.73 L430.24,475.84 L430.74,475.95 L431.24,476.05 L431.74,476.16 L432.24,476.27 L432.75,476.37 L433.25,476.48 L433.75,476.58 L434.25,476.69 L434.75,476.79 L435.26,476.90 L435.76,477.00 L436.26,477.11 L436.76,477.21 L437.26,477.31 L437.77,477.42 L438.27,477.52 L438.77,477.62 L439.27,477.73 L439.77,477.83 L440.28,477.93 L440.78,478.03 L441.28,478.13 L441.78,478.24 L442.28,478.34 L442.79,478.44 L443.29,478.54 L443.79,478.64 L444.29,478.74 L444.79,478.84 L445.30,478.94 L445.80,479.04 L446.30,479.14 L446.80,479.24 L447.31,479.34 L447.81,479.43 L448.31,479.53 L448.81,479.63 L449.31,479.73 L449.82,479.83 L450.32,479.92 L450.82,480.02 L451.32,480.12 L451.82,480.21 L452.33,480.31 L452.83,480.41 L453.33,480.50 L453.83,480.60 L454.33,480.70 L454.84,480.79 L455.34,480.89 L455.84,480.98 L456.34,481.08 L456.84,481.17 L457.35,481.26 L457.85,481.36 L458.35,481.45 L458.85,481.55 L459.35,481.64 L459.86,481.73 L460.36,481.83 L460.86,481.92 L461.36,482.01 L461.87,482.10 L462.37,482.20 L462.87,482.29 L463.37,482.38 L463.87,482.47 L464.38,482.56 L464.88,482.65 L465.38,482.74 L465.88,482.83 L466.38,482.93 L466.89,483.02 L467.39,483.11 L467.89,483.20 L468.39,483.29 L468.89,483.37 L469.40,483.46 L469.90,483.55 L470.40,483.64 L470.90,483.73 L471.40,483.82 L471.91,483.91 L472.41,484.00 L472.91,484.08 L473.41,484.17 L473.91,484.26 L474.42,484.35 L474.92,484.43 L475.42,484.52 L475.92,484.61 L476.43,484.69 L476.93,484.78 L477.43,484.87 L477.93,484.95 L478.43,485.04 L478.94,485.12 L479.44,485.21 L479.94,485.29 L480.44,485.38 L480.94,485.46 L481.45,485.55 L481.95,485.63 L482.45,485.72 L482.95,485.80 L483.45,485.89 L483.96,485.97 L484.46,486.05 L484.96,486.14 L485.46,486.22 L485.96,486.30 L486.47,486.38 L486.97,486.47 L487.47,486.55 L487.97,486.63 L488.47,486.71 L488.98,486.80 L489.48,486.88 L489.98,486.96 L490.48,487.04 L490.99,487.12 L491.49,487.20 L491.99,487.28 L492.49,487.37 L492.99,487.45 L493.50,487.53 L494.00,487.61 L494.50,487.69 L495.00,487.77 L495.50,487.85 L496.01,487.93 L496.51,488.00 L497.01,488.08 L497.51,488.16 L498.01,488.24 L498.52,488.32 L499.02,488.40 L499.52,488.48 L500.02,488.56 L500.52,488.63 L501.03,488.71 L501.53,488.79 L502.03,488.87 L502.53,488.94 L503.03,489.02 L503.54,489.10 L504.04,489.18 L504.54,489.25 L505.04,489.33 L505.55,489.41 L506.05,489.48 L506.55,489.56 L507.05,489.63 L507.55,489.71 L508.06,489.79 L508.56,489.86 L509.06,489.94 L509.56,490.01 L510.06,490.09 L510.57,490.16 L511.07,490.24 L511.57,490.31 L512.07,490.38 L512.57,490.46 L513.08,490.53 L513.58,490.61 L514.08,490.68 L514.58,490.75 L515.08,490.83 L515.59,490.90 L516.09,490.97 L516.59,491.05 L517.09,491.12 L517.59,491.19 L518.10,491.27 L518.60,491.34 L519.10,491.41 L519.60,491.48 L520.11,491.55 L520.61,491.63 L521.11,491.70 L521.61,491.77 L522.11,491.84 L522.62,491.91 L523.12,491.98 L523.62,492.05 L524.12,492.13 L524.62,492.20 L525.13,492.27 L525.63,492.34 L526.13,492.41 L526.63,492.48 L527.13,492.55 L527.64,492.62 L528.14,492.69 L528.64,492.76 L529.14,492.83 L529.64,492.90 L530.15,492.96 L530.65,493.03 L531.15,493.10 L531.65,493.17 L532.15,493.24 L532.66,493.31 L533.16,493.38 L533.66,493.45 L534.16,493.51 L534.66,493.58 L535.17,493.65 L535.67,493.72 L536.17,493.78 L536.67,493.85 L537.18,493.92 L537.68,493.99 L538.18,494.05 L538.68,494.12 L539.18,494.19 L539.69,494.25 L540.19,494.32 L540.69,494.39 L541.19,494.45 L541.69,494.52 L542.20,494.59 L542.70,494.65 L543.20,494.72 L543.70,494.78 L544.20,494.85 L544.71,494.91 L545.21,494.98 L545.71,495.04 L546.21,495.11 L546.71,495.17 L547.22,495.24 L547.72,495.30 L548.22,495.37 L548.72,495.43 L549.22,495.50 L549.73,495.56 L550.23,495.62 L550.73,495.69 L551.23,495.75 L551.74,495.82 L552.24,495.88 L552.74,495.94 L553.24,496.01 L553.74,496.07 L554.25,496.13 L554.75,496.20 L555.25,496.26 L555.75,496.32 L556.25,496.38 L556.76,496.45 L557.26,496.51 L557.76,496.57 L558.26,496.63 L558.76,496.70 L559.27,496.76 L559.77,496.82 L560.27,496.88 L560.77,496.94 L561.27,497.00 L561.78,497.06 L562.28,497.13 L562.78,497.19 L563.28,497.25 L563.78,497.31 L564.29,497.37 L564.79,497.43 L565.29,497.49 L565.79,497.55 L566.30,497.61 L566.80,497.67 L567.30,497.73 L567.80,497.79 L568.30,497.85 L568.81,497.91 L569.31,497.97 L569.81,498.03 L570.31,498.09 L570.81,498.15 L571.32,498.21 L571.82,498.27 L572.32,498.33 L572.82,498.39 L573.32,498.44 L573.83,498.50 L574.33,498.56 L574.83,498.62 L575.33,498.68 L575.83,498.74 L576.34,498.79 L576.84,498.85 L577.34,498.91 L577.84,498.97 L578.34,499.03 L578.85,499.08 L579.35,499.14 L579.85,499.20 L580.35,499.26 L580.86,499.31 L581.36,499.37 L581.86,499.43 L582.36,499.48 L582.86,499.54 L583.37,499.60 L583.87,499.65 L584.37,499.71 L584.87,499.77 L585.37,499.82 L585.88,499.88 L586.38,499.94 L586.88,499.99 L587.38,500.05 L587.88,500.10 L588.39,500.16 L588.89,500.21 L589.39,500.27 L589.89,500.33 L590.39,500.38 L590.90,500.44 L591.40,500.49 L591.90,500.55 L592.40,500.60 L592.90,500.66 L593.41,500.71 L593.91,500.77 L594.41,500.82 L594.91,500.87 L595.42,500.93 L595.92,500.98 L596.42,501.04 L596.92,501.09 L597.42,501.14 L597.93,501.20 L598.43,501.25 L598.93,501.31 L599.43,501.36 L599.93,501.41 L600.44,501.47 L600.94,501.52 L601.44,501.57 L601.94,501.63 L602.44,501.68 L602.95,501.73 L603.45,501.78 L603.95,501.84 L604.45,501.89 L604.95,501.94 L605.46,502.00 L605.96,502.05 L606.46,502.10 L606.96,502.15 L607.46,502.20 L607.97,502.26 L608.47,502.31 L608.97,502.36 L609.47,502.41 L609.97,502.46 L610.48,502.52 L610.98,502.57 L611.48,502.62 L611.98,502.67 L612.49,502.72 L612.99,502.77 L613.49,502.82 L613.99,502.87 L614.49,502.92 L615.00,502.98 L615.50,503.03 L616.00,503.08 L616.50,503.13 L617.00,503.18 L617.51,503.23 L618.01,503.28 L618.51,503.33 L619.01,503.38 L619.51,503.43 L620.02,503.48 L620.52,503.53 L621.02,503.58 L621.52,503.63 L622.02,503.68 L622.53,503.73 L623.03,503.78 L623.53,503.83 L624.03,503.88 L624.53,503.92 L625.04,503.97 L625.54,504.02 L626.04,504.07 L626.54,504.12 L627.05,504.17 L627.55,504.22 L628.05,504.27 L628.55,504.32 L629.05,504.36 L629.56,504.41 L630.06,504.46 L630.56,504.51 L631.06,504.56 L631.56,504.60 L632.07,504.65 L632.57,504.70 L633.07,504.75 L633.57,504.80 L634.07,504.84 L634.58,504.89 L635.08,504.94 L635.58,504.99 L636.08,505.03 L636.58,505.08 L637.09,505.13 L637.59,505.18 L638.09,505.22 L638.59,505.27 L639.09,505.32 L639.60,505.36 L640.10,505.41 L640.60,505.46 L641.10,505.50 L641.61,505.55 L642.11,505.60 L642.61,505.64 L643.11,505.69 L643.61,505.74 L644.12,505.78 L644.62,505.83 L645.12,505.87 L645.62,505.92 L646.12,505.97 L646.63,506.01 L647.13,506.06 L647.63,506.10 L648.13,506.15 L648.63,506.19 L649.14,506.24 L649.64,506.28 L650.14,506.33 L650.64,506.37 L651.14,506.42 L651.65,506.46 L652.15,506.51 L652.65,506.55 L653.15,506.60 L653.65,506.64 L654.16,506.69 L654.66,506.73 L655.16,506.78 L655.66,506.82 L656.17,506.87 L656.67,506.91 L657.17,506.96 L657.67,507.00 L658.17,507.04 L658.68,507.09 L659.18,507.13 L659.68,507.18 L660.18,507.22 L660.68,507.26 L661.19,507.31 L661.69,507.35 L662.19,507.39 L662.69,507.44 L663.19,507.48 L663.70,507.52 L664.20,507.57 L664.70,507.61 L665.20,507.65 L665.70,507.70 L666.21,507.74 L666.71,507.78 L667.21,507.83 L667.71,507.87 L668.21,507.91 L668.72,507.95 L669.22,508.00 L669.72,508.04 L670.22,508.08 L670.73,508.13 L671.23,508.17 L671.73,508.21 L672.23,508.25 L672.73,508.29 L673.24,508.34 L673.74,508.38 L674.24,508.42 L674.74,508.46 L675.24,508.50 L675.75,508.55 L676.25,508.59 L676.75,508.63 L677.25,508.67 L677.75,508.71 L678.26,508.75 L678.76,508.80 L679.26,508.84 L679.76,508.88 L680.26,508.92 L680.77,508.96 L681.27,509.00 L681.77,509.04 L682.27,509.08 L682.77,509.12 L683.28,509.17 L683.78,509.21 L684.28,509.25 L684.78,509.29 L685.28,509.33 L685.79,509.37 L686.29,509.41 L686.79,509.45 L687.29,509.49 L687.80,509.53 L688.30,509.57 L688.80,509.61 L689.30,509.65 L689.80,509.69 L690.31,509.73 L690.81,509.77 L691.31,509.81 L691.81,509.85 L692.31,509.89 L692.82,509.93 L693.32,509.97 L693.82,510.01 L694.32,510.05 L694.82,510.09 L695.33,510.13 L695.83,510.17 L696.33,510.21 L696.83,510.24 L697.33,510.28 L697.84,510.32 L698.34,510.36 L698.84,510.40 L699.34,510.44 L699.84,510.48 L700.35,510.52 L700.85,510.56 L701.35,510.60 L701.85,510.63 L702.36,510.67 L702.86,510.71 L703.36,510.75 L703.86,510.79 L704.36,510.83 L704.87,510.86 L705.37,510.90 L705.87,510.94 L706.37,510.98 L706.87,511.02 L707.38,511.06 L707.88,511.09 L708.38,511.13 L708.88,511.17 L709.38,511.21 L709.89,511.24 L710.39,511.28 L710.89,511.32 L711.39,511.36 L711.89,511.39 L712.40,511.43 L712.90,511.47 L713.40,511.51 L713.90,511.54 L714.40,511.58 L714.91,511.62 L715.41,511.66 L715.91,511.69 L716.41,511.73 L716.92,511.77 L717.42,511.80 L717.92,511.84 L718.42,511.88 L718.92,511.91 L719.43,511.95 L719.93,511.99 L720.43,512.02 L720.93,512.06 L721.43,512.10 L721.94,512.13 L722.44,512.17 L722.94,512.21 L723.44,512.24 L723.94,512.28 L724.45,512.32 L724.95,512.35 L725.45,512.39 L725.95,512.42 L726.45,512.46 L726.96,512.50 L727.46,512.53 L727.96,512.57 L728.46,512.60 L728.96,512.64 L729.47,512.67 L729.97,512.71 L730.47,512.75 L730.97,512.78 L731.48,512.82 L731.98,512.85 L732.48,512.89 L732.98,512.92 L733.48,512.96 L733.99,512.99 L734.49,513.03 L734.99,513.06 L735.49,513.10 L735.99,513.13 L736.50,513.17 L737.00,513.20 L737.50,513.24 L738.00,513.27 L738.50,513.31 L739.01,513.34 L739.51,513.38 L740.01,513.41 L740.51,513.45 L741.01,513.48 L741.52,513.52 L742.02,513.55 L742.52,513.58 L743.02,513.62 L743.52,513.65 L744.03,513.69 L744.53,513.72 L745.03,513.76 L745.53,513.79 L746.03,513.82 L746.54,513.86 L747.04,513.89 L747.54,513.93 L748.04,513.96 L748.55,513.99 L749.05,514.03 L749.55,514.06 L750.05,514.10 L750.55,514.13 L751.06,514.16 L751.56,514.20 L752.06,514.23 L752.56,514.26 L753.06,514.30 L753.57,514.33 L754.07,514.36 L754.57,514.40 L755.07,514.43 L755.57,514.46 L756.08,514.50 L756.58,514.53 L757.08,514.56 L757.58,514.59 L758.08,514.63 L758.59,514.66 L759.09,514.69 L759.59,514.73 L760.09,514.76 L760.59,514.79 L761.10,514.82 L761.60,514.86 L762.10,514.89 L762.60,514.92 L763.11,514.95 L763.61,514.99 L764.11,515.02 L764.61,515.05 L765.11,515.08 L765.62,515.12 L766.12,515.15 L766.62,515.18 L767.12,515.21 L767.62,515.25 L768.13,515.28 L768.63,515.31 L769.13,515.34 L769.63,515.37 L770.13,515.41 L770.64,515.44 L771.14,515.47 L771.64,515.50 L772.14,515.53 L772.64,515.56 L773.15,515.60 L773.65,515.63 L774.15,515.66 L774.65,515.69 L775.15,515.72 L775.66,515.75 L776.16,515.79 L776.66,515.82 L777.16,515.85 L777.67,515.88 L778.17,515.91 L778.67,515.94 L779.17,515.97 L779.67,516.00 L780.18,516.03 L780.68,516.07 L781.18,516.10 L781.68,516.13 L782.18,516.16 L782.69,516.19 L783.19,516.22 L783.69,516.25 L784.19,516.28 L784.69,516.31 L785.20,516.34 L785.70,516.37 L786.20,516.40 L786.70,516.43 L787.20,516.47 L787.71,516.50 L788.21,516.53 L788.71,516.56 L789.21,516.59 L789.71,516.62 L790.22,516.65 L790.72,516.68 L791.22,516.71 L791.72,516.74 L792.23,516.77 L792.73,516.80 L793.23,516.83 L793.73,516.86 L794.23,516.89 L794.74,516.92 L795.24,516.95 L795.74,516.98 L796.24,517.01 L796.74,517.04 L797.25,517.07 L797.75,517.10 L798.25,517.13 L798.75,517.16 L799.25,517.19 L799.76,517.21 L800.26,517.24 L800.76,517.27 L801.26,517.30 L801.76,517.33 L802.27,517.36 L802.77,517.39 L803.27,517.42 L803.77,517.45 L804.27,517.48 L804.78,517.51 L805.28,517.54 L805.78,517.57 L806.28,517.60 L806.79,517.62 L807.29,517.65 L807.79,517.68 L808.29,517.71 L808.79,517.74 L809.30,517.77 L809.80,517.80 L810.30,517.83 L810.80,517.85 L811.30,517.88 L811.81,517.91 L812.31,517.94 L812.81,517.97 L813.31,518.00 L813.81,518.03 L814.32,518.05 L814.82,518.08 L815.32,518.11 L815.82,518.14 L816.32,518.17 L816.83,518.20 L817.33,518.22 L817.83,518.25 L818.33,518.28 L818.83,518.31 L819.34,518.34 L819.84,518.37 L820.34,518.39 L820.84,518.42 L821.35,518.45 L821.85,518.48 L822.35,518.50 L822.85,518.53 L823.35,518.56 L823.86,518.59 L824.36,518.62 L824.86,518.64 L825.36,518.67 L825.86,518.70 L826.37,518.73 L826.87,518.75 L827.37,518.78 L827.87,518.81 L828.37,518.84 L828.88,518.86 L829.38,518.89 L829.88,518.92 L830.38,518.95 L830.88,518.97 L831.39,519.00 L831.89,519.03 L832.39,519.06 L832.89,519.08 L833.39,519.11 L833.90,519.14 L834.40,519.16 L834.90,519.19 L835.40,519.22 L835.90,519.24 L836.41,519.27 L836.91,519.30 L837.41,519.33 L837.91,519.35 L838.42,519.38 L838.92,519.41 L839.42,519.43 L839.92,519.46 L840.42,519.49 L840.93,519.51 L841.43,519.54 L841.93,519.57 L842.43,519.59 L842.93,519.62 L843.44,519.64 L843.94,519.67 L844.44,519.70 L844.94,519.72 L845.44,519.75 L845.95,519.78 L846.45,519.80 L846.95,519.83 L847.45,519.86 L847.95,519.88 L848.46,519.91 L848.96,519.93 L849.46,519.96 L849.96,519.99 L850.46,520.01 L850.97,520.04 L851.47,520.06 L851.97,520.09 L852.47,520.12 L852.98,520.14 L853.48,520.17 L853.98,520.19 L854.48,520.22 L854.98,520.24 L855.49,520.27 L855.99,520.30 L856.49,520.32 L856.99,520.35 L857.49,520.37 L858.00,520.40 L858.50,520.42 L859.00,520.45" stroke="#4a44cc" stroke-width="1.6" stroke-dasharray="10.4 6.74" stroke-dashoffset="0.09"/>
<path d="M105.90,83.02 L106.40,85.89 L106.90,88.71 L107.41,91.51 L107.91,94.27 L108.41,97.00 L108.91,99.70 L109.41,102.37 L109.92,105.00 L110.42,107.61 L110.92,110.19 L111.42,112.73 L111.92,115.25 L112.43,117.75 L112.93,120.21 L113.43,122.65 L113.93,125.06 L114.44,127.44 L114.94,129.80 L115.44,132.13 L115.94,134.44 L116.44,136.72 L116.95,138.98 L117.45,141.22 L117.95,143.43 L118.45,145.62 L118.95,147.78 L119.46,149.93 L119.96,152.05 L120.46,154.15 L120.96,156.23 L121.46,158.28 L121.97,160.32 L122.47,162.34 L122.97,164.33 L123.47,166.31 L123.97,168.27 L124.48,170.20 L124.98,172.12 L125.48,174.02 L125.98,175.90 L126.48,177.77 L126.99,179.61 L127.49,181.44 L127.99,183.25 L128.49,185.04 L129.00,186.82 L129.50,188.58 L130.00,190.33 L130.50,192.05 L131.00,193.76 L131.51,195.46 L132.01,197.14 L132.51,198.81 L133.01,200.46 L133.51,202.09 L134.02,203.71 L134.52,205.32 L135.02,206.91 L135.52,208.49 L136.02,210.05 L136.53,211.60 L137.03,213.14 L137.53,214.66 L138.03,216.17 L138.53,217.67 L139.04,219.15 L139.54,220.62 L140.04,222.08 L140.54,223.53 L141.04,224.96 L141.55,226.38 L142.05,227.79 L142.55,229.19 L143.05,230.58 L143.56,231.95 L144.06,233.31 L144.56,234.67 L145.06,236.01 L145.56,237.34 L146.07,238.66 L146.57,239.97 L147.07,241.27 L147.57,242.56 L148.07,243.83 L148.58,245.10 L149.08,246.36 L149.58,247.61 L150.08,248.85 L150.58,250.07 L151.09,251.29 L151.59,252.50 L152.09,253.70 L152.59,254.89 L153.09,256.07 L153.60,257.25 L154.10,258.41 L154.60,259.57 L155.10,260.71 L155.60,261.85 L156.11,262.98 L156.61,264.10 L157.11,265.21 L157.61,266.31 L158.11,267.41 L158.62,268.50 L159.12,269.58 L159.62,270.65 L160.12,271.71 L160.63,272.77 L161.13,273.82 L161.63,274.86 L162.13,275.89 L162.63,276.92 L163.14,277.94 L163.64,278.95 L164.14,279.95 L164.64,280.95 L165.14,281.94 L165.65,282.93 L166.15,283.90 L166.65,284.87 L167.15,285.84 L167.65,286.79 L168.16,287.74 L168.66,288.69 L169.16,289.62 L169.66,290.55 L170.16,291.48 L170.67,292.39 L171.17,293.31 L171.67,294.21 L172.17,295.11 L172.67,296.01 L173.18,296.89 L173.68,297.78 L174.18,298.65 L174.68,299.52 L175.19,300.39 L175.69,301.24 L176.19,302.10 L176.69,302.95 L177.19,303.79 L177.70,304.62 L178.20,305.46 L178.70,306.28 L179.20,307.10 L179.70,307.92 L180.21,308.73 L180.71,309.53 L181.21,310.33 L181.71,311.13 L182.21,311.92 L182.72,312.70 L183.22,313.48 L183.72,314.26 L184.22,315.03 L184.72,315.80 L185.23,316.56 L185.73,317.31 L186.23,318.07 L186.73,318.81 L187.23,319.56 L187.74,320.29 L188.24,321.03 L188.74,321.76 L189.24,322.48 L189.75,323.20 L190.25,323.92 L190.75,324.63 L191.25,325.34 L191.75,326.04 L192.26,326.74 L192.76,327.44 L193.26,328.13 L193.76,328.81 L194.26,329.50 L194.77,330.18 L195.27,330.85 L195.77,331.52 L196.27,332.19 L196.77,332.85 L197.28,333.51 L197.78,334.17 L198.28,334.82 L198.78,335.47 L199.28,336.12 L199.79,336.76 L200.29,337.39 L200.79,338.03 L201.29,338.66 L201.79,339.29 L202.30,339.91 L202.80,340.53 L203.30,341.15 L203.80,341.76 L204.31,342.37 L204.81,342.98 L205.31,343.58 L205.81,344.18 L206.31,344.77 L206.82,345.37 L207.32,345.96 L207.82,346.54 L208.32,347.13 L208.82,347.71 L209.33,348.29 L209.83,348.86 L210.33,349.43 L210.83,350.00 L211.33,350.57 L211.84,351.13 L212.34,351.69 L212.84,352.24 L213.34,352.80 L213.84,353.35 L214.35,353.89 L214.85,354.44 L215.35,354.98 L215.85,355.52 L216.35,356.06 L216.86,356.59 L217.36,357.12 L217.86,357.65 L218.36,358.17 L218.87,358.70 L219.37,359.22 L219.87,359.73 L220.37,360.25 L220.87,360.76 L221.38,361.27 L221.88,361.78 L222.38,362.28 L222.88,362.78 L223.38,363.28 L223.89,363.78 L224.39,364.28 L224.89,364.77 L225.39,365.26 L225.89,365.74 L226.40,366.23 L226.90,366.71 L227.40,367.19 L227.90,367.67 L228.40,368.15 L228.91,368.62 L229.41,369.09 L229.91,369.56 L230.41,370.02 L230.91,370.49 L231.42,370.95 L231.92,371.41 L232.42,371.87 L232.92,372.32 L233.42,372.77 L233.93,373.23 L234.43,373.67 L234.93,374.12 L235.43,374.57 L235.94,375.01 L236.44,375.45 L236.94,375.89 L237.44,376.32 L237.94,376.76 L238.45,377.19 L238.95,377.62 L239.45,378.05 L239.95,378.47 L240.45,378.90 L240.96,379.32 L241.46,379.74 L241.96,380.16 L242.46,380.58 L242.96,380.99 L243.47,381.40 L243.97,381.81 L244.47,382.22 L244.97,382.63 L245.47,383.04 L245.98,383.44 L246.48,383.84 L246.98,384.24 L247.48,384.64 L247.98,385.04 L248.49,385.43 L248.99,385.82 L249.49,386.22 L249.99,386.60 L250.50,386.99 L251.00,387.38 L251.50,387.76 L252.00,388.15 L252.50,388.53 L253.01,388.91 L253.51,389.28 L254.01,389.66 L254.51,390.03 L255.01,390.41 L255.52,390.78 L256.02,391.15 L256.52,391.52 L257.02,391.88 L257.52,392.25 L258.03,392.61 L258.53,392.97 L259.03,393.33 L259.53,393.69 L260.03,394.05 L260.54,394.40 L261.04,394.76 L261.54,395.11 L262.04,395.46 L262.54,395.81 L263.05,396.16 L263.55,396.51 L264.05,396.85 L264.55,397.20 L265.06,397.54 L265.56,397.88 L266.06,398.22 L266.56,398.56 L267.06,398.90 L267.57,399.23 L268.07,399.57 L268.57,399.90 L269.07,400.23 L269.57,400.56 L270.08,400.89 L270.58,401.22 L271.08,401.54 L271.58,401.87 L272.08,402.19 L272.59,402.51 L273.09,402.83 L273.59,403.15 L274.09,403.47 L274.59,403.79 L275.10,404.11 L275.60,404.42 L276.10,404.73 L276.60,405.05 L277.10,405.36 L277.61,405.67 L278.11,405.98 L278.61,406.28 L279.11,406.59 L279.62,406.89 L280.12,407.20 L280.62,407.50 L281.12,407.80 L281.62,408.10 L282.13,408.40 L282.63,408.70 L283.13,408.99 L283.63,409.29 L284.13,409.59 L284.64,409.88 L285.14,410.17 L285.64,410.46 L286.14,410.75 L286.64,411.04 L287.15,411.33 L287.65,411.62 L288.15,411.90 L288.65,412.19 L289.15,412.47 L289.66,412.75 L290.16,413.03 L290.66,413.31 L291.16,413.59 L291.66,413.87 L292.17,414.15 L292.67,414.42 L293.17,414.70 L293.67,414.97 L294.18,415.25 L294.68,415.52 L295.18,415.79 L295.68,416.06 L296.18,416.33 L296.69,416.60 L297.19,416.86 L297.69,417.13 L298.19,417.39 L298.69,417.66 L299.20,417.92 L299.70,418.18 L300.20,418.45 L300.70,418.71 L301.20,418.97 L301.71,419.22 L302.21,419.48 L302.71,419.74 L303.21,419.99 L303.71,420.25 L304.22,420.50 L304.72,420.76 L305.22,421.01 L305.72,421.26 L306.22,421.51 L306.73,421.76 L307.23,422.01 L307.73,422.26 L308.23,422.50 L308.73,422.75 L309.24,422.99 L309.74,423.24 L310.24,423.48 L310.74,423.72 L311.25,423.97 L311.75,424.21 L312.25,424.45 L312.75,424.69 L313.25,424.93 L313.76,425.16 L314.26,425.40 L314.76,425.64 L315.26,425.87 L315.76,426.11 L316.27,426.34 L316.77,426.57 L317.27,426.80 L317.77,427.03 L318.27,427.27 L318.78,427.49 L319.28,427.72 L319.78,427.95 L320.28,428.18 L320.78,428.41 L321.29,428.63 L321.79,428.86 L322.29,429.08 L322.79,429.30 L323.29,429.53 L323.80,429.75 L324.30,429.97 L324.80,430.19 L325.30,430.41 L325.81,430.63 L326.31,430.85 L326.81,431.07 L327.31,431.28 L327.81,431.50 L328.32,431.71 L328.82,431.93 L329.32,432.14 L329.82,432.36 L330.32,432.57 L330.83,432.78 L331.33,432.99 L331.83,433.20 L332.33,433.41 L332.83,433.62 L333.34,433.83 L333.84,434.04 L334.34,434.25 L334.84,434.45 L335.34,434.66 L335.85,434.86 L336.35,435.07 L336.85,435.27 L337.35,435.48 L337.85,435.68 L338.36,435.88 L338.86,436.08 L339.36,436.28 L339.86,436.48 L340.37,436.68 L340.87,436.88 L341.37,437.08 L341.87,437.28 L342.37,437.48 L342.88,437.67 L343.38,437.87 L343.88,438.06 L344.38,438.26 L344.88,438.45 L345.39,438.64 L345.89,438.84 L346.39,439.03 L346.89,439.22 L347.39,439.41 L347.90,439.60 L348.40,439.79 L348.90,439.98 L349.40,440.17 L349.90,440.36 L350.41,440.55 L350.91,440.73 L351.41,440.92 L351.91,441.10 L352.41,441.29 L352.92,441.47 L353.42,441.66 L353.92,441.84 L354.42,442.02 L354.93,442.21 L355.43,442.39 L355.93,442.57 L356.43,442.75 L356.93,442.93 L357.44,443.11 L357.94,443.29 L358.44,443.47 L358.94,443.65 L359.44,443.82 L359.95,444.00 L360.45,444.18 L360.95,444.35 L361.45,444.53 L361.95,444.70 L362.46,444.88 L362.96,445.05 L363.46,445.23 L363.96,445.40 L364.46,445.57 L364.97,445.74 L365.47,445.91 L365.97,446.09 L366.47,446.26 L366.97,446.43 L367.48,446.59 L367.98,446.76 L368.48,446.93 L368.98,447.10 L369.49,447.27 L369.99,447.43 L370.49,447.60 L370.99,447.77 L371.49,447.93 L372.00,448.10 L372.50,448.26 L373.00,448.43 L373.50,448.59 L374.00,448.75 L374.51,448.92 L375.01,449.08 L375.51,449.24 L376.01,449.40 L376.51,449.56 L377.02,449.72 L377.52,449.88 L378.02,450.04 L378.52,450.20 L379.02,450.36 L379.53,450.52 L380.03,450.67 L380.53,450.83 L381.03,450.99 L381.53,451.15 L382.04,451.30 L382.54,451.46 L383.04,451.61 L383.54,451.77 L384.04,451.92 L384.55,452.07 L385.05,452.23 L385.55,452.38 L386.05,452.53 L386.56,452.69 L387.06,452.84 L387.56,452.99 L388.06,453.14 L388.56,453.29 L389.07,453.44 L389.57,453.59 L390.07,453.74 L390.57,453.89 L391.07,454.04 L391.58,454.18 L392.08,454.33 L392.58,454.48 L393.08,454.62 L393.58,454.77 L394.09,454.92 L394.59,455.06 L395.09,455.21 L395.59,455.35 L396.09,455.50 L396.60,455.64 L397.10,455.78 L397.60,455.93 L398.10,456.07 L398.60,456.21 L399.11,456.36 L399.61,456.50 L400.11,456.64 L400.61,456.78 L401.12,456.92 L401.62,457.06 L402.12,457.20 L402.62,457.34 L403.12,457.48 L403.63,457.62 L404.13,457.76 L404.63,457.89 L405.13,458.03 L405.63,458.17 L406.14,458.31 L406.64,458.44 L407.14,458.58 L407.64,458.72 L408.14,458.85 L408.65,458.99 L409.15,459.12 L409.65,459.26 L410.15,459.39 L410.65,459.52 L411.16,459.66 L411.66,459.79 L412.16,459.92 L412.66,460.05 L413.16,460.19 L413.67,460.32 L414.17,460.45 L414.67,460.58 L415.17,460.71 L415.68,460.84 L416.18,460.97 L416.68,461.10 L417.18,461.23 L417.68,461.36 L418.19,461.49 L418.69,461.62 L419.19,461.75 L419.69,461.87 L420.19,462.00 L420.70,462.13 L421.20,462.25 L421.70,462.38 L422.20,462.51 L422.70,462.63 L423.21,462.76 L423.71,462.88 L424.21,463.01 L424.71,463.13 L425.21,463.26 L425.72,463.38 L426.22,463.51 L426.72,463.63 L427.22,463.75 L427.72,463.87 L428.23,464.00 L428.73,464.12 L429.23,464.24 L429.73,464.36 L430.24,464.48 L430.74,464.61 L431.24,464.73 L431.74,464.85 L432.24,464.97 L432.75,465.09 L433.25,465.21 L433.75,465.32 L434.25,465.44 L434.75,465.56 L435.26,465.68 L435.76,465.80 L436.26,465.92 L436.76,466.03 L437.26,466.15 L437.77,466.27 L438.27,466.38 L438.77,466.50 L439.27,466.62 L439.77,466.73 L440.28,466.85 L440.78,466.96 L441.28,467.08 L441.78,467.19 L442.28,467.31 L442.79,467.42 L443.29,467.54 L443.79,467.65 L444.29,467.76 L444.79,467.88 L445.30,467.99 L445.80,468.10 L446.30,468.21 L446.80,468.32 L447.31,468.44 L447.81,468.55 L448.31,468.66 L448.81,468.77 L449.31,468.88 L449.82,468.99 L450.32,469.10 L450.82,469.21 L451.32,469.32 L451.82,469.43 L452.33,469.54 L452.83,469.65 L453.33,469.76 L453.83,469.86 L454.33,469.97 L454.84,470.08 L455.34,470.19 L455.84,470.30 L456.34,470.40 L456.84,470.51 L457.35,470.62 L457.85,470.72 L458.35,470.83 L458.85,470.93 L459.35,471.04 L459.86,471.15 L460.36,471.25 L460.86,471.36 L461.36,471.46 L461.87,471.56 L462.37,471.67 L462.87,471.77 L463.37,471.88 L463.87,471.98 L464.38,472.08 L464.88,472.19 L465.38,472.29 L465.88,472.39 L466.38,472.49 L466.89,472.60 L467.39,472.70 L467.89,472.80 L468.39,472.90 L468.89,473.00 L469.40,473.10 L469.90,473.20 L470.40,473.30 L470.90,473.40 L471.40,473.50 L471.91,473.60 L472.41,473.70 L472.91,473.80 L473.41,473.90 L473.91,474.00 L474.42,474.10 L474.92,474.20 L475.42,474.30 L475.92,474.39 L476.43,474.49 L476.93,474.59 L477.43,474.69 L477.93,474.78 L478.43,474.88 L478.94,474.98 L479.44,475.07 L479.94,475.17 L480.44,475.27 L480.94,475.36 L481.45,475.46 L481.95,475.55 L482.45,475.65 L482.95,475.74 L483.45,475.84 L483.96,475.93 L484.46,476.03 L484.96,476.12 L485.46,476.22 L485.96,476.31 L486.47,476.40 L486.97,476.50 L487.47,476.59 L487.97,476.68 L488.47,476.78 L488.98,476.87 L489.48,476.96 L489.98,477.05 L490.48,477.15 L490.99,477.24 L491.49,477.33 L491.99,477.42 L492.49,477.51 L492.99,477.60 L493.50,477.69 L494.00,477.79 L494.50,477.88 L495.00,477.97 L495.50,478.06 L496.01,478.15 L496.51,478.24 L497.01,478.33 L497.51,478.41 L498.01,478.50 L498.52,478.59 L499.02,478.68 L499.52,478.77 L500.02,478.86 L500.52,478.95 L501.03,479.03 L501.53,479.12 L502.03,479.21 L502.53,479.30 L503.03,479.39 L503.54,479.47 L504.04,479.56 L504.54,479.65 L505.04,479.73 L505.55,479.82 L506.05,479.91 L506.55,479.99 L507.05,480.08 L507.55,480.16 L508.06,480.25 L508.56,480.33 L509.06,480.42 L509.56,480.50 L510.06,480.59 L510.57,480.67 L511.07,480.76 L511.57,480.84 L512.07,480.93 L512.57,481.01 L513.08,481.09 L513.58,481.18 L514.08,481.26 L514.58,481.34 L515.08,481.43 L515.59,481.51 L516.09,481.59 L516.59,481.68 L517.09,481.76 L517.59,481.84 L518.10,481.92 L518.60,482.00 L519.10,482.09 L519.60,482.17 L520.11,482.25 L520.61,482.33 L521.11,482.41 L521.61,482.49 L522.11,482.57 L522.62,482.65 L523.12,482.73 L523.62,482.81 L524.12,482.89 L524.62,482.97 L525.13,483.05 L525.63,483.13 L526.13,483.21 L526.63,483.29 L527.13,483.37 L527.64,483.45 L528.14,483.53 L528.64,483.61 L529.14,483.69 L529.64,483.76 L530.15,483.84 L530.65,483.92 L531.15,484.00 L531.65,484.08 L532.15,484.15 L532.66,484.23 L533.16,484.31 L533.66,484.39 L534.16,484.46 L534.66,484.54 L535.17,484.62 L535.67,484.69 L536.17,484.77 L536.67,484.85 L537.18,484.92 L537.68,485.00 L538.18,485.07 L538.68,485.15 L539.18,485.23 L539.69,485.30 L540.19,485.38 L540.69,485.45 L541.19,485.53 L541.69,485.60 L542.20,485.68 L542.70,485.75 L543.20,485.82 L543.70,485.90 L544.20,485.97 L544.71,486.05 L545.21,486.12 L545.71,486.19 L546.21,486.27 L546.71,486.34 L547.22,486.41 L547.72,486.49 L548.22,486.56 L548.72,486.63 L549.22,486.71 L549.73,486.78 L550.23,486.85 L550.73,486.92 L551.23,486.99 L551.74,487.07 L552.24,487.14 L552.74,487.21 L553.24,487.28 L553.74,487.35 L554.25,487.42 L554.75,487.50 L555.25,487.57 L555.75,487.64 L556.25,487.71 L556.76,487.78 L557.26,487.85 L557.76,487.92 L558.26,487.99 L558.76,488.06 L559.27,488.13 L559.77,488.20 L560.27,488.27 L560.77,488.34 L561.27,488.41 L561.78,488.48 L562.28,488.55 L562.78,488.62 L563.28,488.68 L563.78,488.75 L564.29,488.82 L564.79,488.89 L565.29,488.96 L565.79,489.03 L566.30,489.10 L566.80,489.16 L567.30,489.23 L567.80,489.30 L568.30,489.37 L568.81,489.43 L569.31,489.50 L569.81,489.57 L570.31,489.64 L570.81,489.70 L571.32,489.77 L571.82,489.84 L572.32,489.90 L572.82,489.97 L573.32,490.04 L573.83,490.10 L574.33,490.17 L574.83,490.24 L575.33,490.30 L575.83,490.37 L576.34,490.43 L576.84,490.50 L577.34,490.56 L577.84,490.63 L578.34,490.69 L578.85,490.76 L579.35,490.82 L579.85,490.89 L580.35,490.95 L580.86,491.02 L581.36,491.08 L581.86,491.15 L582.36,491.21 L582.86,491.28 L583.37,491.34 L583.87,491.40 L584.37,491.47 L584.87,491.53 L585.37,491.60 L585.88,491.66 L586.38,491.72 L586.88,491.79 L587.38,491.85 L587.88,491.91 L588.39,491.98 L588.89,492.04 L589.39,492.10 L589.89,492.16 L590.39,492.23 L590.90,492.29 L591.40,492.35 L591.90,492.41 L592.40,492.48 L592.90,492.54 L593.41,492.60 L593.91,492.66 L594.41,492.72 L594.91,492.78 L595.42,492.85 L595.92,492.91 L596.42,492.97 L596.92,493.03 L597.42,493.09 L597.93,493.15 L598.43,493.21 L598.93,493.27 L599.43,493.33 L599.93,493.39 L600.44,493.45 L600.94,493.51 L601.44,493.57 L601.94,493.63 L602.44,493.69 L602.95,493.75 L603.45,493.81 L603.95,493.87 L604.45,493.93 L604.95,493.99 L605.46,494.05 L605.96,494.11 L606.46,494.17 L606.96,494.23 L607.46,494.29 L607.97,494.35 L608.47,494.41 L608.97,494.46 L609.47,494.52 L609.97,494.58 L610.48,494.64 L610.98,494.70 L611.48,494.76 L611.98,494.81 L612.49,494.87 L612.99,494.93 L613.49,494.99 L613.99,495.04 L614.49,495.10 L615.00,495.16 L615.50,495.22 L616.00,495.27 L616.50,495.33 L617.00,495.39 L617.51,495.44 L618.01,495.50 L618.51,495.56 L619.01,495.62 L619.51,495.67 L620.02,495.73 L620.52,495.78 L621.02,495.84 L621.52,495.90 L622.02,495.95 L622.53,496.01 L623.03,496.06 L623.53,496.12 L624.03,496.18 L624.53,496.23 L625.04,496.29 L625.54,496.34 L626.04,496.40 L626.54,496.45 L627.05,496.51 L627.55,496.56 L628.05,496.62 L628.55,496.67 L629.05,496.73 L629.56,496.78 L630.06,496.84 L630.56,496.89 L631.06,496.95 L631.56,497.00 L632.07,497.06 L632.57,497.11 L633.07,497.16 L633.57,497.22 L634.07,497.27 L634.58,497.33 L635.08,497.38 L635.58,497.43 L636.08,497.49 L636.58,497.54 L637.09,497.59 L637.59,497.65 L638.09,497.70 L638.59,497.75 L639.09,497.81 L639.60,497.86 L640.10,497.91 L640.60,497.96 L641.10,498.02 L641.61,498.07 L642.11,498.12 L642.61,498.17 L643.11,498.23 L643.61,498.28 L644.12,498.33 L644.62,498.38 L645.12,498.44 L645.62,498.49 L646.12,498.54 L646.63,498.59 L647.13,498.64 L647.63,498.69 L648.13,498.75 L648.63,498.80 L649.14,498.85 L649.64,498.90 L650.14,498.95 L650.64,499.00 L651.14,499.05 L651.65,499.10 L652.15,499.15 L652.65,499.21 L653.15,499.26 L653.65,499.31 L654.16,499.36 L654.66,499.41 L655.16,499.46 L655.66,499.51 L656.17,499.56 L656.67,499.61 L657.17,499.66 L657.67,499.71 L658.17,499.76 L658.68,499.81 L659.18,499.86 L659.68,499.91 L660.18,499.96 L660.68,500.01 L661.19,500.06 L661.69,500.11 L662.19,500.15 L662.69,500.20 L663.19,500.25 L663.70,500.30 L664.20,500.35 L664.70,500.40 L665.20,500.45 L665.70,500.50 L666.21,500.55 L666.71,500.59 L667.21,500.64 L667.71,500.69 L668.21,500.74 L668.72,500.79 L669.22,500.84 L669.72,500.88 L670.22,500.93 L670.73,500.98 L671.23,501.03 L671.73,501.08 L672.23,501.12 L672.73,501.17 L673.24,501.22 L673.74,501.27 L674.24,501.31 L674.74,501.36 L675.24,501.41 L675.75,501.46 L676.25,501.50 L676.75,501.55 L677.25,501.60 L677.75,501.64 L678.26,501.69 L678.76,501.74 L679.26,501.78 L679.76,501.83 L680.26,501.88 L680.77,501.92 L681.27,501.97 L681.77,502.02 L682.27,502.06 L682.77,502.11 L683.28,502.16 L683.78,502.20 L684.28,502.25 L684.78,502.29 L685.28,502.34 L685.79,502.39 L686.29,502.43 L686.79,502.48 L687.29,502.52 L687.80,502.57 L688.30,502.61 L688.80,502.66 L689.30,502.70 L689.80,502.75 L690.31,502.80 L690.81,502.84 L691.31,502.89 L691.81,502.93 L692.31,502.98 L692.82,503.02 L693.32,503.07 L693.82,503.11 L694.32,503.15 L694.82,503.20 L695.33,503.24 L695.83,503.29 L696.33,503.33 L696.83,503.38 L697.33,503.42 L697.84,503.47 L698.34,503.51 L698.84,503.55 L699.34,503.60 L699.84,503.64 L700.35,503.69 L700.85,503.73 L701.35,503.77 L701.85,503.82 L702.36,503.86 L702.86,503.90 L703.36,503.95 L703.86,503.99 L704.36,504.03 L704.87,504.08 L705.37,504.12 L705.87,504.16 L706.37,504.21 L706.87,504.25 L707.38,504.29 L707.88,504.34 L708.38,504.38 L708.88,504.42 L709.38,504.46 L709.89,504.51 L710.39,504.55 L710.89,504.59 L711.39,504.63 L711.89,504.68 L712.40,504.72 L712.90,504.76 L713.40,504.80 L713.90,504.85 L714.40,504.89 L714.91,504.93 L715.41,504.97 L715.91,505.01 L716.41,505.06 L716.92,505.10 L717.42,505.14 L717.92,505.18 L718.42,505.22 L718.92,505.26 L719.43,505.31 L719.93,505.35 L720.43,505.39 L720.93,505.43 L721.43,505.47 L721.94,505.51 L722.44,505.55 L722.94,505.59 L723.44,505.64 L723.94,505.68 L724.45,505.72 L724.95,505.76 L725.45,505.80 L725.95,505.84 L726.45,505.88 L726.96,505.92 L727.46,505.96 L727.96,506.00 L728.46,506.04 L728.96,506.08 L729.47,506.12 L729.97,506.16 L730.47,506.20 L730.97,506.24 L731.48,506.28 L731.98,506.32 L732.48,506.36 L732.98,506.40 L733.48,506.44 L733.99,506.48 L734.49,506.52 L734.99,506.56 L735.49,506.60 L735.99,506.64 L736.50,506.68 L737.00,506.72 L737.50,506.76 L738.00,506.80 L738.50,506.84 L739.01,506.88 L739.51,506.92 L740.01,506.96 L740.51,507.00 L741.01,507.04 L741.52,507.07 L742.02,507.11 L742.52,507.15 L743.02,507.19 L743.52,507.23 L744.03,507.27 L744.53,507.31 L745.03,507.35 L745.53,507.38 L746.03,507.42 L746.54,507.46 L747.04,507.50 L747.54,507.54 L748.04,507.58 L748.55,507.61 L749.05,507.65 L749.55,507.69 L750.05,507.73 L750.55,507.77 L751.06,507.81 L751.56,507.84 L752.06,507.88 L752.56,507.92 L753.06,507.96 L753.57,507.99 L754.07,508.03 L754.57,508.07 L755.07,508.11 L755.57,508.14 L756.08,508.18 L756.58,508.22 L757.08,508.26 L757.58,508.29 L758.08,508.33 L758.59,508.37 L759.09,508.41 L759.59,508.44 L760.09,508.48 L760.59,508.52 L761.10,508.55 L761.60,508.59 L762.10,508.63 L762.60,508.66 L763.11,508.70 L763.61,508.74 L764.11,508.77 L764.61,508.81 L765.11,508.85 L765.62,508.88 L766.12,508.92 L766.62,508.96 L767.12,508.99 L767.62,509.03 L768.13,509.07 L768.63,509.10 L769.13,509.14 L769.63,509.17 L770.13,509.21 L770.64,509.25 L771.14,509.28 L771.64,509.32 L772.14,509.35 L772.64,509.39 L773.15,509.43 L773.65,509.46 L774.15,509.50 L774.65,509.53 L775.15,509.57 L775.66,509.60 L776.16,509.64 L776.66,509.68 L777.16,509.71 L777.67,509.75 L778.17,509.78 L778.67,509.82 L779.17,509.85 L779.67,509.89 L780.18,509.92 L780.68,509.96 L781.18,509.99 L781.68,510.03 L782.18,510.06 L782.69,510.10 L783.19,510.13 L783.69,510.17 L784.19,510.20 L784.69,510.24 L785.20,510.27 L785.70,510.31 L786.20,510.34 L786.70,510.37 L787.20,510.41 L787.71,510.44 L788.21,510.48 L788.71,510.51 L789.21,510.55 L789.71,510.58 L790.22,510.61 L790.72,510.65 L791.22,510.68 L791.72,510.72 L792.23,510.75 L792.73,510.78 L793.23,510.82 L793.73,510.85 L794.23,510.89 L794.74,510.92 L795.24,510.95 L795.74,510.99 L796.24,511.02 L796.74,511.06 L797.25,511.09 L797.75,511.12 L798.25,511.16 L798.75,511.19 L799.25,511.22 L799.76,511.26 L800.26,511.29 L800.76,511.32 L801.26,511.36 L801.76,511.39 L802.27,511.42 L802.77,511.46 L803.27,511.49 L803.77,511.52 L804.27,511.55 L804.78,511.59 L805.28,511.62 L805.78,511.65 L806.28,511.69 L806.79,511.72 L807.29,511.75 L807.79,511.78 L808.29,511.82 L808.79,511.85 L809.30,511.88 L809.80,511.91 L810.30,511.95 L810.80,511.98 L811.30,512.01 L811.81,512.04 L812.31,512.08 L812.81,512.11 L813.31,512.14 L813.81,512.17 L814.32,512.21 L814.82,512.24 L815.32,512.27 L815.82,512.30 L816.32,512.33 L816.83,512.37 L817.33,512.40 L817.83,512.43 L818.33,512.46 L818.83,512.49 L819.34,512.52 L819.84,512.56 L820.34,512.59 L820.84,512.62 L821.35,512.65 L821.85,512.68 L822.35,512.71 L822.85,512.75 L823.35,512.78 L823.86,512.81 L824.36,512.84 L824.86,512.87 L825.36,512.90 L825.86,512.93 L826.37,512.96 L826.87,513.00 L827.37,513.03 L827.87,513.06 L828.37,513.09 L828.88,513.12 L829.38,513.15 L829.88,513.18 L830.38,513.21 L830.88,513.24 L831.39,513.27 L831.89,513.31 L832.39,513.34 L832.89,513.37 L833.39,513.40 L833.90,513.43 L834.40,513.46 L834.90,513.49 L835.40,513.52 L835.90,513.55 L836.41,513.58 L836.91,513.61 L837.41,513.64 L837.91,513.67 L838.42,513.70 L838.92,513.73 L839.42,513.76 L839.92,513.79 L840.42,513.82 L840.93,513.85 L841.43,513.88 L841.93,513.91 L842.43,513.94 L842.93,513.97 L843.44,514.00 L843.94,514.03 L844.44,514.06 L844.94,514.09 L845.44,514.12 L845.95,514.15 L846.45,514.18 L846.95,514.21 L847.45,514.24 L847.95,514.27 L848.46,514.30 L848.96,514.33 L849.46,514.36 L849.96,514.39 L850.46,514.42 L850.97,514.45 L851.47,514.48 L851.97,514.51 L852.47,514.54 L852.98,514.56 L853.48,514.59 L853.98,514.62 L854.48,514.65 L854.98,514.68 L855.49,514.71 L855.99,514.74 L856.49,514.77 L856.99,514.80 L857.49,514.83 L858.00,514.85 L858.50,514.88 L859.00,514.91" stroke="#5ad85a" stroke-width="1.5" stroke-dasharray="7.6 4.6 1.2 3.765" stroke-dashoffset="1.115"/>
<path d="M105.90,27.65 L106.40,30.85 L106.90,34.00 L107.41,37.12 L107.91,40.20 L108.41,43.24 L108.91,46.25 L109.41,49.23 L109.92,52.17 L110.42,55.08 L110.92,57.95 L111.42,60.79 L111.92,63.60 L112.43,66.38 L112.93,69.13 L113.43,71.85 L113.93,74.54 L114.44,77.20 L114.94,79.83 L115.44,82.43 L115.94,85.00 L116.44,87.55 L116.95,90.07 L117.45,92.56 L117.95,95.03 L118.45,97.47 L118.95,99.88 L119.46,102.28 L119.96,104.64 L120.46,106.98 L120.96,109.30 L121.46,111.60 L121.97,113.87 L122.47,116.12 L122.97,118.34 L123.47,120.55 L123.97,122.73 L124.48,124.89 L124.98,127.03 L125.48,129.15 L125.98,131.25 L126.48,133.33 L126.99,135.39 L127.49,137.43 L127.99,139.45 L128.49,141.45 L129.00,143.43 L129.50,145.39 L130.00,147.34 L130.50,149.26 L131.00,151.17 L131.51,153.06 L132.01,154.94 L132.51,156.80 L133.01,158.64 L133.51,160.46 L134.02,162.27 L134.52,164.06 L135.02,165.83 L135.52,167.59 L136.02,169.34 L136.53,171.07 L137.03,172.78 L137.53,174.48 L138.03,176.16 L138.53,177.83 L139.04,179.49 L139.54,181.13 L140.04,182.75 L140.54,184.37 L141.04,185.97 L141.55,187.55 L142.05,189.12 L142.55,190.68 L143.05,192.23 L143.56,193.76 L144.06,195.29 L144.56,196.79 L145.06,198.29 L145.56,199.78 L146.07,201.25 L146.57,202.71 L147.07,204.16 L147.57,205.59 L148.07,207.02 L148.58,208.43 L149.08,209.84 L149.58,211.23 L150.08,212.61 L150.58,213.98 L151.09,215.34 L151.59,216.69 L152.09,218.02 L152.59,219.35 L153.09,220.67 L153.60,221.98 L154.10,223.28 L154.60,224.56 L155.10,225.84 L155.60,227.11 L156.11,228.37 L156.61,229.62 L157.11,230.86 L157.61,232.09 L158.11,233.31 L158.62,234.53 L159.12,235.73 L159.62,236.93 L160.12,238.11 L160.63,239.29 L161.13,240.46 L161.63,241.62 L162.13,242.78 L162.63,243.92 L163.14,245.06 L163.64,246.19 L164.14,247.31 L164.64,248.42 L165.14,249.52 L165.65,250.62 L166.15,251.71 L166.65,252.79 L167.15,253.87 L167.65,254.93 L168.16,255.99 L168.66,257.05 L169.16,258.09 L169.66,259.13 L170.16,260.16 L170.67,261.18 L171.17,262.20 L171.67,263.21 L172.17,264.21 L172.67,265.21 L173.18,266.20 L173.68,267.18 L174.18,268.16 L174.68,269.13 L175.19,270.10 L175.69,271.05 L176.19,272.01 L176.69,272.95 L177.19,273.89 L177.70,274.82 L178.20,275.75 L178.70,276.67 L179.20,277.59 L179.70,278.50 L180.21,279.40 L180.71,280.30 L181.21,281.19 L181.71,282.08 L182.21,282.96 L182.72,283.84 L183.22,284.71 L183.72,285.57 L184.22,286.43 L184.72,287.28 L185.23,288.13 L185.73,288.98 L186.23,289.82 L186.73,290.65 L187.23,291.48 L187.74,292.30 L188.24,293.12 L188.74,293.93 L189.24,294.74 L189.75,295.54 L190.25,296.34 L190.75,297.14 L191.25,297.93 L191.75,298.71 L192.26,299.49 L192.76,300.27 L193.26,301.04 L193.76,301.80 L194.26,302.57 L194.77,303.32 L195.27,304.08 L195.77,304.83 L196.27,305.57 L196.77,306.31 L197.28,307.05 L197.78,307.78 L198.28,308.51 L198.78,309.23 L199.28,309.95 L199.79,310.66 L200.29,311.37 L200.79,312.08 L201.29,312.78 L201.79,313.48 L202.30,314.18 L202.80,314.87 L203.30,315.56 L203.80,316.24 L204.31,316.92 L204.81,317.60 L205.31,318.27 L205.81,318.94 L206.31,319.61 L206.82,320.27 L207.32,320.93 L207.82,321.58 L208.32,322.23 L208.82,322.88 L209.33,323.52 L209.83,324.16 L210.33,324.80 L210.83,325.43 L211.33,326.07 L211.84,326.69 L212.34,327.32 L212.84,327.94 L213.34,328.55 L213.84,329.17 L214.35,329.78 L214.85,330.39 L215.35,330.99 L215.85,331.59 L216.35,332.19 L216.86,332.79 L217.36,333.38 L217.86,333.97 L218.36,334.55 L218.87,335.14 L219.37,335.72 L219.87,336.29 L220.37,336.87 L220.87,337.44 L221.38,338.01 L221.88,338.57 L222.38,339.13 L222.88,339.69 L223.38,340.25 L223.89,340.81 L224.39,341.36 L224.89,341.91 L225.39,342.45 L225.89,343.00 L226.40,343.54 L226.90,344.07 L227.40,344.61 L227.90,345.14 L228.40,345.67 L228.91,346.20 L229.41,346.73 L229.91,347.25 L230.41,347.77 L230.91,348.29 L231.42,348.80 L231.92,349.31 L232.42,349.82 L232.92,350.33 L233.42,350.84 L233.93,351.34 L234.43,351.84 L234.93,352.34 L235.43,352.83 L235.94,353.33 L236.44,353.82 L236.94,354.31 L237.44,354.79 L237.94,355.28 L238.45,355.76 L238.95,356.24 L239.45,356.72 L239.95,357.19 L240.45,357.67 L240.96,358.14 L241.46,358.61 L241.96,359.07 L242.46,359.54 L242.96,360.00 L243.47,360.46 L243.97,360.92 L244.47,361.38 L244.97,361.83 L245.47,362.28 L245.98,362.73 L246.48,363.18 L246.98,363.63 L247.48,364.07 L247.98,364.51 L248.49,364.95 L248.99,365.39 L249.49,365.83 L249.99,366.26 L250.50,366.70 L251.00,367.13 L251.50,367.55 L252.00,367.98 L252.50,368.41 L253.01,368.83 L253.51,369.25 L254.01,369.67 L254.51,370.09 L255.01,370.50 L255.52,370.92 L256.02,371.33 L256.52,371.74 L257.02,372.15 L257.52,372.56 L258.03,372.96 L258.53,373.37 L259.03,373.77 L259.53,374.17 L260.03,374.57 L260.54,374.96 L261.04,375.36 L261.54,375.75 L262.04,376.14 L262.54,376.53 L263.05,376.92 L263.55,377.31 L264.05,377.69 L264.55,378.08 L265.06,378.46 L265.56,378.84 L266.06,379.22 L266.56,379.60 L267.06,379.97 L267.57,380.35 L268.07,380.72 L268.57,381.09 L269.07,381.46 L269.57,381.83 L270.08,382.20 L270.58,382.56 L271.08,382.92 L271.58,383.29 L272.08,383.65 L272.59,384.01 L273.09,384.37 L273.59,384.72 L274.09,385.08 L274.59,385.43 L275.10,385.78 L275.60,386.13 L276.10,386.48 L276.60,386.83 L277.10,387.18 L277.61,387.52 L278.11,387.87 L278.61,388.21 L279.11,388.55 L279.62,388.89 L280.12,389.23 L280.62,389.57 L281.12,389.91 L281.62,390.24 L282.13,390.57 L282.63,390.91 L283.13,391.24 L283.63,391.57 L284.13,391.89 L284.64,392.22 L285.14,392.55 L285.64,392.87 L286.14,393.20 L286.64,393.52 L287.15,393.84 L287.65,394.16 L288.15,394.48 L288.65,394.80 L289.15,395.11 L289.66,395.43 L290.16,395.74 L290.66,396.05 L291.16,396.36 L291.66,396.67 L292.17,396.98 L292.67,397.29 L293.17,397.60 L293.67,397.90 L294.18,398.21 L294.68,398.51 L295.18,398.81 L295.68,399.12 L296.18,399.42 L296.69,399.72 L297.19,400.01 L297.69,400.31 L298.19,400.61 L298.69,400.90 L299.20,401.19 L299.70,401.49 L300.20,401.78 L300.70,402.07 L301.20,402.36 L301.71,402.65 L302.21,402.93 L302.71,403.22 L303.21,403.51 L303.71,403.79 L304.22,404.07 L304.72,404.36 L305.22,404.64 L305.72,404.92 L306.22,405.20 L306.73,405.47 L307.23,405.75 L307.73,406.03 L308.23,406.30 L308.73,406.58 L309.24,406.85 L309.74,407.12 L310.24,407.40 L310.74,407.67 L311.25,407.94 L311.75,408.20 L312.25,408.47 L312.75,408.74 L313.25,409.01 L313.76,409.27 L314.26,409.53 L314.76,409.80 L315.26,410.06 L315.76,410.32 L316.27,410.58 L316.77,410.84 L317.27,411.10 L317.77,411.36 L318.27,411.62 L318.78,411.87 L319.28,412.13 L319.78,412.38 L320.28,412.63 L320.78,412.89 L321.29,413.14 L321.79,413.39 L322.29,413.64 L322.79,413.89 L323.29,414.14 L323.80,414.39 L324.30,414.63 L324.80,414.88 L325.30,415.12 L325.81,415.37 L326.31,415.61 L326.81,415.85 L327.31,416.10 L327.81,416.34 L328.32,416.58 L328.82,416.82 L329.32,417.06 L329.82,417.29 L330.32,417.53 L330.83,417.77 L331.33,418.00 L331.83,418.24 L332.33,418.47 L332.83,418.71 L333.34,418.94 L333.84,419.17 L334.34,419.40 L334.84,419.63 L335.34,419.86 L335.85,420.09 L336.35,420.32 L336.85,420.55 L337.35,420.77 L337.85,421.00 L338.36,421.23 L338.86,421.45 L339.36,421.67 L339.86,421.90 L340.37,422.12 L340.87,422.34 L341.37,422.56 L341.87,422.78 L342.37,423.00 L342.88,423.22 L343.38,423.44 L343.88,423.66 L344.38,423.88 L344.88,424.09 L345.39,424.31 L345.89,424.52 L346.39,424.74 L346.89,424.95 L347.39,425.16 L347.90,425.38 L348.40,425.59 L348.90,425.80 L349.40,426.01 L349.90,426.22 L350.41,426.43 L350.91,426.64 L351.41,426.84 L351.91,427.05 L352.41,427.26 L352.92,427.46 L353.42,427.67 L353.92,427.87 L354.42,428.08 L354.93,428.28 L355.43,428.48 L355.93,428.69 L356.43,428.89 L356.93,429.09 L357.44,429.29 L357.94,429.49 L358.44,429.69 L358.94,429.89 L359.44,430.08 L359.95,430.28 L360.45,430.48 L360.95,430.68 L361.45,430.87 L361.95,431.07 L362.46,431.26 L362.96,431.45 L363.46,431.65 L363.96,431.84 L364.46,432.03 L364.97,432.22 L365.47,432.42 L365.97,432.61 L366.47,432.80 L366.97,432.99 L367.48,433.17 L367.98,433.36 L368.48,433.55 L368.98,433.74 L369.49,433.93 L369.99,434.11 L370.49,434.30 L370.99,434.48 L371.49,434.67 L372.00,434.85 L372.50,435.03 L373.00,435.22 L373.50,435.40 L374.00,435.58 L374.51,435.76 L375.01,435.94 L375.51,436.12 L376.01,436.30 L376.51,436.48 L377.02,436.66 L377.52,436.84 L378.02,437.02 L378.52,437.20 L379.02,437.37 L379.53,437.55 L380.03,437.73 L380.53,437.90 L381.03,438.08 L381.53,438.25 L382.04,438.42 L382.54,438.60 L383.04,438.77 L383.54,438.94 L384.04,439.12 L384.55,439.29 L385.05,439.46 L385.55,439.63 L386.05,439.80 L386.56,439.97 L387.06,440.14 L387.56,440.31 L388.06,440.47 L388.56,440.64 L389.07,440.81 L389.57,440.98 L390.07,441.14 L390.57,441.31 L391.07,441.47 L391.58,441.64 L392.08,441.80 L392.58,441.97 L393.08,442.13 L393.58,442.29 L394.09,442.46 L394.59,442.62 L395.09,442.78 L395.59,442.94 L396.09,443.10 L396.60,443.27 L397.10,443.43 L397.60,443.59 L398.10,443.74 L398.60,443.90 L399.11,444.06 L399.61,444.22 L400.11,444.38 L400.61,444.54 L401.12,444.69 L401.62,444.85 L402.12,445.00 L402.62,445.16 L403.12,445.32 L403.63,445.47 L404.13,445.62 L404.63,445.78 L405.13,445.93 L405.63,446.09 L406.14,446.24 L406.64,446.39 L407.14,446.54 L407.64,446.69 L408.14,446.84 L408.65,447.00 L409.15,447.15 L409.65,447.30 L410.15,447.45 L410.65,447.59 L411.16,447.74 L411.66,447.89 L412.16,448.04 L412.66,448.19 L413.16,448.34 L413.67,448.48 L414.17,448.63 L414.67,448.78 L415.17,448.92 L415.68,449.07 L416.18,449.21 L416.68,449.36 L417.18,449.50 L417.68,449.64 L418.19,449.79 L418.69,449.93 L419.19,450.07 L419.69,450.22 L420.19,450.36 L420.70,450.50 L421.20,450.64 L421.70,450.78 L422.20,450.92 L422.70,451.06 L423.21,451.20 L423.71,451.34 L424.21,451.48 L424.71,451.62 L425.21,451.76 L425.72,451.90 L426.22,452.04 L426.72,452.17 L427.22,452.31 L427.72,452.45 L428.23,452.59 L428.73,452.72 L429.23,452.86 L429.73,452.99 L430.24,453.13 L430.74,453.26 L431.24,453.40 L431.74,453.53 L432.24,453.67 L432.75,453.80 L433.25,453.93 L433.75,454.07 L434.25,454.20 L434.75,454.33 L435.26,454.46 L435.76,454.59 L436.26,454.73 L436.76,454.86 L437.26,454.99 L437.77,455.12 L438.27,455.25 L438.77,455.38 L439.27,455.51 L439.77,455.64 L440.28,455.77 L440.78,455.89 L441.28,456.02 L441.78,456.15 L442.28,456.28 L442.79,456.40 L443.29,456.53 L443.79,456.66 L444.29,456.78 L444.79,456.91 L445.30,457.04 L445.80,457.16 L446.30,457.29 L446.80,457.41 L447.31,457.54 L447.81,457.66 L448.31,457.78 L448.81,457.91 L449.31,458.03 L449.82,458.16 L450.32,458.28 L450.82,458.40 L451.32,458.52 L451.82,458.64 L452.33,458.77 L452.83,458.89 L453.33,459.01 L453.83,459.13 L454.33,459.25 L454.84,459.37 L455.34,459.49 L455.84,459.61 L456.34,459.73 L456.84,459.85 L457.35,459.97 L457.85,460.09 L458.35,460.21 L458.85,460.32 L459.35,460.44 L459.86,460.56 L460.36,460.68 L460.86,460.79 L461.36,460.91 L461.87,461.03 L462.37,461.14 L462.87,461.26 L463.37,461.37 L463.87,461.49 L464.38,461.60 L464.88,461.72 L465.38,461.83 L465.88,461.95 L466.38,462.06 L466.89,462.18 L467.39,462.29 L467.89,462.40 L468.39,462.52 L468.89,462.63 L469.40,462.74 L469.90,462.85 L470.40,462.97 L470.90,463.08 L471.40,463.19 L471.91,463.30 L472.41,463.41 L472.91,463.52 L473.41,463.63 L473.91,463.74 L474.42,463.85 L474.92,463.96 L475.42,464.07 L475.92,464.18 L476.43,464.29 L476.93,464.40 L477.43,464.51 L477.93,464.62 L478.43,464.73 L478.94,464.83 L479.44,464.94 L479.94,465.05 L480.44,465.16 L480.94,465.26 L481.45,465.37 L481.95,465.48 L482.45,465.58 L482.95,465.69 L483.45,465.79 L483.96,465.90 L484.46,466.01 L484.96,466.11 L485.46,466.22 L485.96,466.32 L486.47,466.42 L486.97,466.53 L487.47,466.63 L487.97,466.74 L488.47,466.84 L488.98,466.94 L489.48,467.05 L489.98,467.15 L490.48,467.25 L490.99,467.35 L491.49,467.46 L491.99,467.56 L492.49,467.66 L492.99,467.76 L493.50,467.86 L494.00,467.96 L494.50,468.07 L495.00,468.17 L495.50,468.27 L496.01,468.37 L496.51,468.47 L497.01,468.57 L497.51,468.67 L498.01,468.77 L498.52,468.87 L499.02,468.96 L499.52,469.06 L500.02,469.16 L500.52,469.26 L501.03,469.36 L501.53,469.46 L502.03,469.55 L502.53,469.65 L503.03,469.75 L503.54,469.85 L504.04,469.94 L504.54,470.04 L505.04,470.14 L505.55,470.23 L506.05,470.33 L506.55,470.42 L507.05,470.52 L507.55,470.62 L508.06,470.71 L508.56,470.81 L509.06,470.90 L509.56,471.00 L510.06,471.09 L510.57,471.19 L511.07,471.28 L511.57,471.37 L512.07,471.47 L512.57,471.56 L513.08,471.65 L513.58,471.75 L514.08,471.84 L514.58,471.93 L515.08,472.03 L515.59,472.12 L516.09,472.21 L516.59,472.30 L517.09,472.40 L517.59,472.49 L518.10,472.58 L518.60,472.67 L519.10,472.76 L519.60,472.85 L520.11,472.94 L520.61,473.03 L521.11,473.12 L521.61,473.21 L522.11,473.30 L522.62,473.39 L523.12,473.48 L523.62,473.57 L524.12,473.66 L524.62,473.75 L525.13,473.84 L525.63,473.93 L526.13,474.02 L526.63,474.11 L527.13,474.19 L527.64,474.28 L528.14,474.37 L528.64,474.46 L529.14,474.55 L529.64,474.63 L530.15,474.72 L530.65,474.81 L531.15,474.90 L531.65,474.98 L532.15,475.07 L532.66,475.15 L533.16,475.24 L533.66,475.33 L534.16,475.41 L534.66,475.50 L535.17,475.58 L535.67,475.67 L536.17,475.75 L536.67,475.84 L537.18,475.92 L537.68,476.01 L538.18,476.09 L538.68,476.18 L539.18,476.26 L539.69,476.35 L540.19,476.43 L540.69,476.51 L541.19,476.60 L541.69,476.68 L542.20,476.76 L542.70,476.85 L543.20,476.93 L543.70,477.01 L544.20,477.10 L544.71,477.18 L545.21,477.26 L545.71,477.34 L546.21,477.42 L546.71,477.51 L547.22,477.59 L547.72,477.67 L548.22,477.75 L548.72,477.83 L549.22,477.91 L549.73,477.99 L550.23,478.07 L550.73,478.16 L551.23,478.24 L551.74,478.32 L552.24,478.40 L552.74,478.48 L553.24,478.56 L553.74,478.64 L554.25,478.72 L554.75,478.79 L555.25,478.87 L555.75,478.95 L556.25,479.03 L556.76,479.11 L557.26,479.19 L557.76,479.27 L558.26,479.35 L558.76,479.42 L559.27,479.50 L559.77,479.58 L560.27,479.66 L560.77,479.74 L561.27,479.81 L561.78,479.89 L562.28,479.97 L562.78,480.04 L563.28,480.12 L563.78,480.20 L564.29,480.27 L564.79,480.35 L565.29,480.43 L565.79,480.50 L566.30,480.58 L566.80,480.66 L567.30,480.73 L567.80,480.81 L568.30,480.88 L568.81,480.96 L569.31,481.03 L569.81,481.11 L570.31,481.18 L570.81,481.26 L571.32,481.33 L571.82,481.41 L572.32,481.48 L572.82,481.56 L573.32,481.63 L573.83,481.70 L574.33,481.78 L574.83,481.85 L575.33,481.92 L575.83,482.00 L576.34,482.07 L576.84,482.14 L577.34,482.22 L577.84,482.29 L578.34,482.36 L578.85,482.44 L579.35,482.51 L579.85,482.58 L580.35,482.65 L580.86,482.73 L581.36,482.80 L581.86,482.87 L582.36,482.94 L582.86,483.01 L583.37,483.08 L583.87,483.16 L584.37,483.23 L584.87,483.30 L585.37,483.37 L585.88,483.44 L586.38,483.51 L586.88,483.58 L587.38,483.65 L587.88,483.72 L588.39,483.79 L588.89,483.86 L589.39,483.93 L589.89,484.00 L590.39,484.07 L590.90,484.14 L591.40,484.21 L591.90,484.28 L592.40,484.35 L592.90,484.42 L593.41,484.49 L593.91,484.56 L594.41,484.62 L594.91,484.69 L595.42,484.76 L595.92,484.83 L596.42,484.90 L596.92,484.97 L597.42,485.03 L597.93,485.10 L598.43,485.17 L598.93,485.24 L599.43,485.31 L599.93,485.37 L600.44,485.44 L600.94,485.51 L601.44,485.57 L601.94,485.64 L602.44,485.71 L602.95,485.78 L603.45,485.84 L603.95,485.91 L604.45,485.97 L604.95,486.04 L605.46,486.11 L605.96,486.17 L606.46,486.24 L606.96,486.30 L607.46,486.37 L607.97,486.44 L608.47,486.50 L608.97,486.57 L609.47,486.63 L609.97,486.70 L610.48,486.76 L610.98,486.83 L611.48,486.89 L611.98,486.96 L612.49,487.02 L612.99,487.09 L613.49,487.15 L613.99,487.21 L614.49,487.28 L615.00,487.34 L615.50,487.41 L616.00,487.47 L616.50,487.53 L617.00,487.60 L617.51,487.66 L618.01,487.72 L618.51,487.79 L619.01,487.85 L619.51,487.91 L620.02,487.98 L620.52,488.04 L621.02,488.10 L621.52,488.17 L622.02,488.23 L622.53,488.29 L623.03,488.35 L623.53,488.42 L624.03,488.48 L624.53,488.54 L625.04,488.60 L625.54,488.66 L626.04,488.73 L626.54,488.79 L627.05,488.85 L627.55,488.91 L628.05,488.97 L628.55,489.03 L629.05,489.09 L629.56,489.15 L630.06,489.22 L630.56,489.28 L631.06,489.34 L631.56,489.40 L632.07,489.46 L632.57,489.52 L633.07,489.58 L633.57,489.64 L634.07,489.70 L634.58,489.76 L635.08,489.82 L635.58,489.88 L636.08,489.94 L636.58,490.00 L637.09,490.06 L637.59,490.12 L638.09,490.18 L638.59,490.24 L639.09,490.29 L639.60,490.35 L640.10,490.41 L640.60,490.47 L641.10,490.53 L641.61,490.59 L642.11,490.65 L642.61,490.71 L643.11,490.76 L643.61,490.82 L644.12,490.88 L644.62,490.94 L645.12,491.00 L645.62,491.05 L646.12,491.11 L646.63,491.17 L647.13,491.23 L647.63,491.29 L648.13,491.34 L648.63,491.40 L649.14,491.46 L649.64,491.51 L650.14,491.57 L650.64,491.63 L651.14,491.69 L651.65,491.74 L652.15,491.80 L652.65,491.86 L653.15,491.91 L653.65,491.97 L654.16,492.03 L654.66,492.08 L655.16,492.14 L655.66,492.19 L656.17,492.25 L656.67,492.31 L657.17,492.36 L657.67,492.42 L658.17,492.47 L658.68,492.53 L659.18,492.58 L659.68,492.64 L660.18,492.69 L660.68,492.75 L661.19,492.80 L661.69,492.86 L662.19,492.91 L662.69,492.97 L663.19,493.02 L663.70,493.08 L664.20,493.13 L664.70,493.19 L665.20,493.24 L665.70,493.30 L666.21,493.35 L666.71,493.41 L667.21,493.46 L667.71,493.51 L668.21,493.57 L668.72,493.62 L669.22,493.68 L669.72,493.73 L670.22,493.78 L670.73,493.84 L671.23,493.89 L671.73,493.94 L672.23,494.00 L672.73,494.05 L673.24,494.10 L673.74,494.16 L674.24,494.21 L674.74,494.26 L675.24,494.31 L675.75,494.37 L676.25,494.42 L676.75,494.47 L677.25,494.52 L677.75,494.58 L678.26,494.63 L678.76,494.68 L679.26,494.73 L679.76,494.79 L680.26,494.84 L680.77,494.89 L681.27,494.94 L681.77,494.99 L682.27,495.04 L682.77,495.10 L683.28,495.15 L683.78,495.20 L684.28,495.25 L684.78,495.30 L685.28,495.35 L685.79,495.40 L686.29,495.45 L686.79,495.51 L687.29,495.56 L687.80,495.61 L688.30,495.66 L688.80,495.71 L689.30,495.76 L689.80,495.81 L690.31,495.86 L690.81,495.91 L691.31,495.96 L691.81,496.01 L692.31,496.06 L692.82,496.11 L693.32,496.16 L693.82,496.21 L694.32,496.26 L694.82,496.31 L695.33,496.36 L695.83,496.41 L696.33,496.46 L696.83,496.51 L697.33,496.56 L697.84,496.61 L698.34,496.66 L698.84,496.71 L699.34,496.75 L699.84,496.80 L700.35,496.85 L700.85,496.90 L701.35,496.95 L701.85,497.00 L702.36,497.05 L702.86,497.10 L703.36,497.14 L703.86,497.19 L704.36,497.24 L704.87,497.29 L705.37,497.34 L705.87,497.39 L706.37,497.43 L706.87,497.48 L707.38,497.53 L707.88,497.58 L708.38,497.63 L708.88,497.67 L709.38,497.72 L709.89,497.77 L710.39,497.82 L710.89,497.86 L711.39,497.91 L711.89,497.96 L712.40,498.01 L712.90,498.05 L713.40,498.10 L713.90,498.15 L714.40,498.19 L714.91,498.24 L715.41,498.29 L715.91,498.33 L716.41,498.38 L716.92,498.43 L717.42,498.47 L717.92,498.52 L718.42,498.57 L718.92,498.61 L719.43,498.66 L719.93,498.71 L720.43,498.75 L720.93,498.80 L721.43,498.84 L721.94,498.89 L722.44,498.94 L722.94,498.98 L723.44,499.03 L723.94,499.07 L724.45,499.12 L724.95,499.17 L725.45,499.21 L725.95,499.26 L726.45,499.30 L726.96,499.35 L727.46,499.39 L727.96,499.44 L728.46,499.48 L728.96,499.53 L729.47,499.57 L729.97,499.62 L730.47,499.66 L730.97,499.71 L731.48,499.75 L731.98,499.80 L732.48,499.84 L732.98,499.89 L733.48,499.93 L733.99,499.97 L734.49,500.02 L734.99,500.06 L735.49,500.11 L735.99,500.15 L736.50,500.20 L737.00,500.24 L737.50,500.28 L738.00,500.33 L738.50,500.37 L739.01,500.42 L739.51,500.46 L740.01,500.50 L740.51,500.55 L741.01,500.59 L741.52,500.63 L742.02,500.68 L742.52,500.72 L743.02,500.76 L743.52,500.81 L744.03,500.85 L744.53,500.89 L745.03,500.94 L745.53,500.98 L746.03,501.02 L746.54,501.06 L747.04,501.11 L747.54,501.15 L748.04,501.19 L748.55,501.24 L749.05,501.28 L749.55,501.32 L750.05,501.36 L750.55,501.41 L751.06,501.45 L751.56,501.49 L752.06,501.53 L752.56,501.57 L753.06,501.62 L753.57,501.66 L754.07,501.70 L754.57,501.74 L755.07,501.78 L755.57,501.83 L756.08,501.87 L756.58,501.91 L757.08,501.95 L757.58,501.99 L758.08,502.04 L758.59,502.08 L759.09,502.12 L759.59,502.16 L760.09,502.20 L760.59,502.24 L761.10,502.28 L761.60,502.32 L762.10,502.37 L762.60,502.41 L763.11,502.45 L763.61,502.49 L764.11,502.53 L764.61,502.57 L765.11,502.61 L765.62,502.65 L766.12,502.69 L766.62,502.73 L767.12,502.77 L767.62,502.81 L768.13,502.85 L768.63,502.89 L769.13,502.94 L769.63,502.98 L770.13,503.02 L770.64,503.06 L771.14,503.10 L771.64,503.14 L772.14,503.18 L772.64,503.22 L773.15,503.26 L773.65,503.30 L774.15,503.34 L774.65,503.38 L775.15,503.41 L775.66,503.45 L776.16,503.49 L776.66,503.53 L777.16,503.57 L777.67,503.61 L778.17,503.65 L778.67,503.69 L779.17,503.73 L779.67,503.77 L780.18,503.81 L780.68,503.85 L781.18,503.89 L781.68,503.93 L782.18,503.97 L782.69,504.00 L783.19,504.04 L783.69,504.08 L784.19,504.12 L784.69,504.16 L785.20,504.20 L785.70,504.24 L786.20,504.28 L786.70,504.31 L787.20,504.35 L787.71,504.39 L788.21,504.43 L788.71,504.47 L789.21,504.51 L789.71,504.54 L790.22,504.58 L790.72,504.62 L791.22,504.66 L791.72,504.70 L792.23,504.73 L792.73,504.77 L793.23,504.81 L793.73,504.85 L794.23,504.89 L794.74,504.92 L795.24,504.96 L795.74,505.00 L796.24,505.04 L796.74,505.07 L797.25,505.11 L797.75,505.15 L798.25,505.19 L798.75,505.22 L799.25,505.26 L799.76,505.30 L800.26,505.33 L800.76,505.37 L801.26,505.41 L801.76,505.45 L802.27,505.48 L802.77,505.52 L803.27,505.56 L803.77,505.59 L804.27,505.63 L804.78,505.67 L805.28,505.70 L805.78,505.74 L806.28,505.78 L806.79,505.81 L807.29,505.85 L807.79,505.89 L808.29,505.92 L808.79,505.96 L809.30,506.00 L809.80,506.03 L810.30,506.07 L810.80,506.10 L811.30,506.14 L811.81,506.18 L812.31,506.21 L812.81,506.25 L813.31,506.28 L813.81,506.32 L814.32,506.36 L814.82,506.39 L815.32,506.43 L815.82,506.46 L816.32,506.50 L816.83,506.53 L817.33,506.57 L817.83,506.61 L818.33,506.64 L818.83,506.68 L819.34,506.71 L819.84,506.75 L820.34,506.78 L820.84,506.82 L821.35,506.85 L821.85,506.89 L822.35,506.92 L822.85,506.96 L823.35,506.99 L823.86,507.03 L824.36,507.06 L824.86,507.10 L825.36,507.13 L825.86,507.17 L826.37,507.20 L826.87,507.24 L827.37,507.27 L827.87,507.31 L828.37,507.34 L828.88,507.38 L829.38,507.41 L829.88,507.45 L830.38,507.48 L830.88,507.51 L831.39,507.55 L831.89,507.58 L832.39,507.62 L832.89,507.65 L833.39,507.69 L833.90,507.72 L834.40,507.75 L834.90,507.79 L835.40,507.82 L835.90,507.86 L836.41,507.89 L836.91,507.92 L837.41,507.96 L837.91,507.99 L838.42,508.03 L838.92,508.06 L839.42,508.09 L839.92,508.13 L840.42,508.16 L840.93,508.19 L841.43,508.23 L841.93,508.26 L842.43,508.29 L842.93,508.33 L843.44,508.36 L843.94,508.39 L844.44,508.43 L844.94,508.46 L845.44,508.49 L845.95,508.53 L846.45,508.56 L846.95,508.59 L847.45,508.63 L847.95,508.66 L848.46,508.69 L848.96,508.73 L849.46,508.76 L849.96,508.79 L850.46,508.82 L850.97,508.86 L851.47,508.89 L851.97,508.92 L852.47,508.95 L852.98,508.99 L853.48,509.02 L853.98,509.05 L854.48,509.08 L854.98,509.12 L855.49,509.15 L855.99,509.18 L856.49,509.21 L856.99,509.25 L857.49,509.28 L858.00,509.31 L858.50,509.34 L859.00,509.38" stroke="#dc8ade" stroke-width="1.5" stroke-dasharray="1.45 2.88" stroke-dashoffset="-0.8"/>
</g>
<rect x="105.9" y="21.05" width="753.1" height="541.85" fill="none" stroke="#6a6a6a" stroke-width="2"/>
<path d="M105.90,562.9v-7.6M105.90,21.05v7.6M189.58,562.9v-7.6M189.58,21.05v7.6M273.26,562.9v-7.6M273.26,21.05v7.6M356.93,562.9v-7.6M356.93,21.05v7.6M440.61,562.9v-7.6M440.61,21.05v7.6M524.29,562.9v-7.6M524.29,21.05v7.6M607.97,562.9v-7.6M607.97,21.05v7.6M691.64,562.9v-7.6M691.64,21.05v7.6M775.32,562.9v-7.6M775.32,21.05v7.6M859.00,562.9v-7.6M859.00,21.05v7.6M105.9,562.90h7.6M859.0,562.90h-7.6M105.9,495.17h7.6M859.0,495.17h-7.6M105.9,427.44h7.6M859.0,427.44h-7.6M105.9,359.71h7.6M859.0,359.71h-7.6M105.9,291.97h7.6M859.0,291.97h-7.6M105.9,224.24h7.6M859.0,224.24h-7.6M105.9,156.51h7.6M859.0,156.51h-7.6M105.9,88.78h7.6M859.0,88.78h-7.6M105.9,21.05h7.6M859.0,21.05h-7.6" stroke="#6a6a6a" stroke-width="1.9" fill="none"/>
<text x="99.99" y="589.00" font-size="18">2</text>
<text x="182.47" y="589.00" font-size="18">4</text>
<text x="266.45" y="589.00" font-size="18">6</text>
<text x="351.83" y="589.00" font-size="18">8</text>
<text x="430.85" y="589.00" font-size="18"> 0</text>
<text x="514.98" y="589.00" font-size="18"> 2</text>
<text x="597.56" y="589.00" font-size="18"> 4</text>
<text x="682.23" y="589.00" font-size="18"> 6</text>
<text x="766.81" y="589.00" font-size="18"> 8</text>
<text x="849.99" y="589.00" font-size="18">20</text>
<text x="86.59" y="571.00" font-size="18">0</text>
<text x="68.17" y="503.47" font-size="18"> 00</text>
<text x="68.17" y="435.64" font-size="18">200</text>
<text x="68.17" y="368.21" font-size="18">300</text>
<text x="68.17" y="299.07" font-size="18">400</text>
<text x="68.17" y="230.94" font-size="18">500</text>
<text x="68.17" y="163.31" font-size="18">600</text>
<text x="68.17" y="95.58" font-size="18">700</text>
<text x="68.17" y="28.15" font-size="18">800</text>
<g fill="#262626" stroke="#262626" stroke-width="0.3"><path transform="translate(430.85,589.00) scale(0.008789,-0.008789)" d="M763 0L583 0L583 1147Q518 1085 412 1023Q306 961 222 930L222 1104Q373 1175 486 1276Q599 1377 646 1472L763 1472Z" vector-effect="non-scaling-stroke"/><path transform="translate(514.98,589.00) scale(0.008789,-0.008789)" d="M763 0L583 0L583 1147Q518 1085 412 1023Q306 961 222 930L222 1104Q373 1175 486 1276Q599 1377 646 1472L763 1472Z" vector-effect="non-scaling-stroke"/><path transform="translate(597.56,589.00) scale(0.008789,-0.008789)" d="M763 0L583 0L583 1147Q518 1085 412 1023Q306 961 222 930L222 1104Q373 1175 486 1276Q599 1377 646 1472L763 1472Z" vector-effect="non-scaling-stroke"/><path transform="translate(682.23,589.00) scale(0.008789,-0.008789)" d="M763 0L583 0L583 1147Q518 1085 412 1023Q306 961 222 930L222 1104Q373 1175 486 1276Q599 1377 646 1472L763 1472Z" vector-effect="non-scaling-stroke"/><path transform="translate(766.81,589.00) scale(0.008789,-0.008789)" d="M763 0L583 0L583 1147Q518 1085 412 1023Q306 961 222 930L222 1104Q373 1175 486 1276Q599 1377 646 1472L763 1472Z" vector-effect="non-scaling-stroke"/><path transform="translate(68.17,503.47) scale(0.008789,-0.008789)" d="M763 0L583 0L583 1147Q518 1085 412 1023Q306 961 222 930L222 1104Q373 1175 486 1276Q599 1377 646 1472L763 1472Z" vector-effect="non-scaling-stroke"/></g>
<text id="m_xl" x="356" y="615" font-size="19.3" textLength="252" lengthAdjust="spacing">Coating speed (Uc) / (m/min)</text>
<text id="m_ya" class="yl" transform="translate(57,385.3) rotate(-90)" font-size="18.8" textLength="66.3" lengthAdjust="spacing">Coating</text>
<text id="m_yt" class="yl" transform="translate(57,312.3) rotate(-90)" font-size="18.8" textLength="83.5" lengthAdjust="spacing">thickness</text>
<text id="m_yh" class="yl" transform="translate(57,223.3) rotate(-90)" font-size="18.8">(h)</text>
<path id="m_ys" d="M59.7,191.3L42.2,186.5" stroke="#262626" stroke-width="1.3"/>
<text id="m_yb" transform="translate(56.3,183.5) rotate(-90)" font-size="20" font-family="Liberation Serif" style="font-family:Liberation Serif">(</text>
<text id="m_yc" transform="translate(57,174) rotate(-90) scale(1.1,1)" font-size="19" font-family="Liberation Serif" font-weight="bold" style="font-family:Liberation Serif">μ</text>
<text id="m_yd" transform="translate(57,158.8) rotate(-90) scale(0.88,1)" font-size="19" font-family="Liberation Serif" font-weight="bold" style="font-family:Liberation Serif">m</text>
<text id="m_ye" transform="translate(56.3,146.5) rotate(-90)" font-size="20" font-family="Liberation Serif" style="font-family:Liberation Serif">)</text>
<rect x="684.6" y="42.6" width="161.60000000000002" height="92.20000000000002" fill="#fff" stroke="#4a4a4a" stroke-width="1.6"/>
<path d="M690.2,55.5H742.8" stroke="#ea3440" stroke-width="1.6"  fill="none"/>
<text x="747.5" y="62.6" font-size="16">U<tspan font-size="14" dy="3" dx="1.8">u</tspan><tspan dy="-3" dx="11.2">= 2.0m/s</tspan></text>
<path d="M690.2,77.7H742.8" stroke="#4a44cc" stroke-width="1.6" stroke-dasharray="10.4 6.74"  fill="none"/>
<text x="747.5" y="84.8" font-size="16">U<tspan font-size="14" dy="3" dx="1.8">u</tspan><tspan dy="-3" dx="11.2">= 2.3m/s</tspan></text>
<path d="M690.2,99.8H742.8" stroke="#5ad85a" stroke-width="1.5" stroke-dasharray="7.6 4.6 1.2 3.765"  fill="none"/>
<text x="747.5" y="106.89999999999999" font-size="16">U<tspan font-size="14" dy="3" dx="1.8">u</tspan><tspan dy="-3" dx="11.2">= 2.6m/s</tspan></text>
<path d="M690.2,122.0H742.8" stroke="#dc8ade" stroke-width="1.5" stroke-dasharray="1.45 2.88"  fill="none"/>
<text x="747.5" y="129.1" font-size="16">U<tspan font-size="14" dy="3" dx="1.8">u</tspan><tspan dy="-3" dx="11.2">= 2.9m/s</tspan></text>
</svg></body></html>
